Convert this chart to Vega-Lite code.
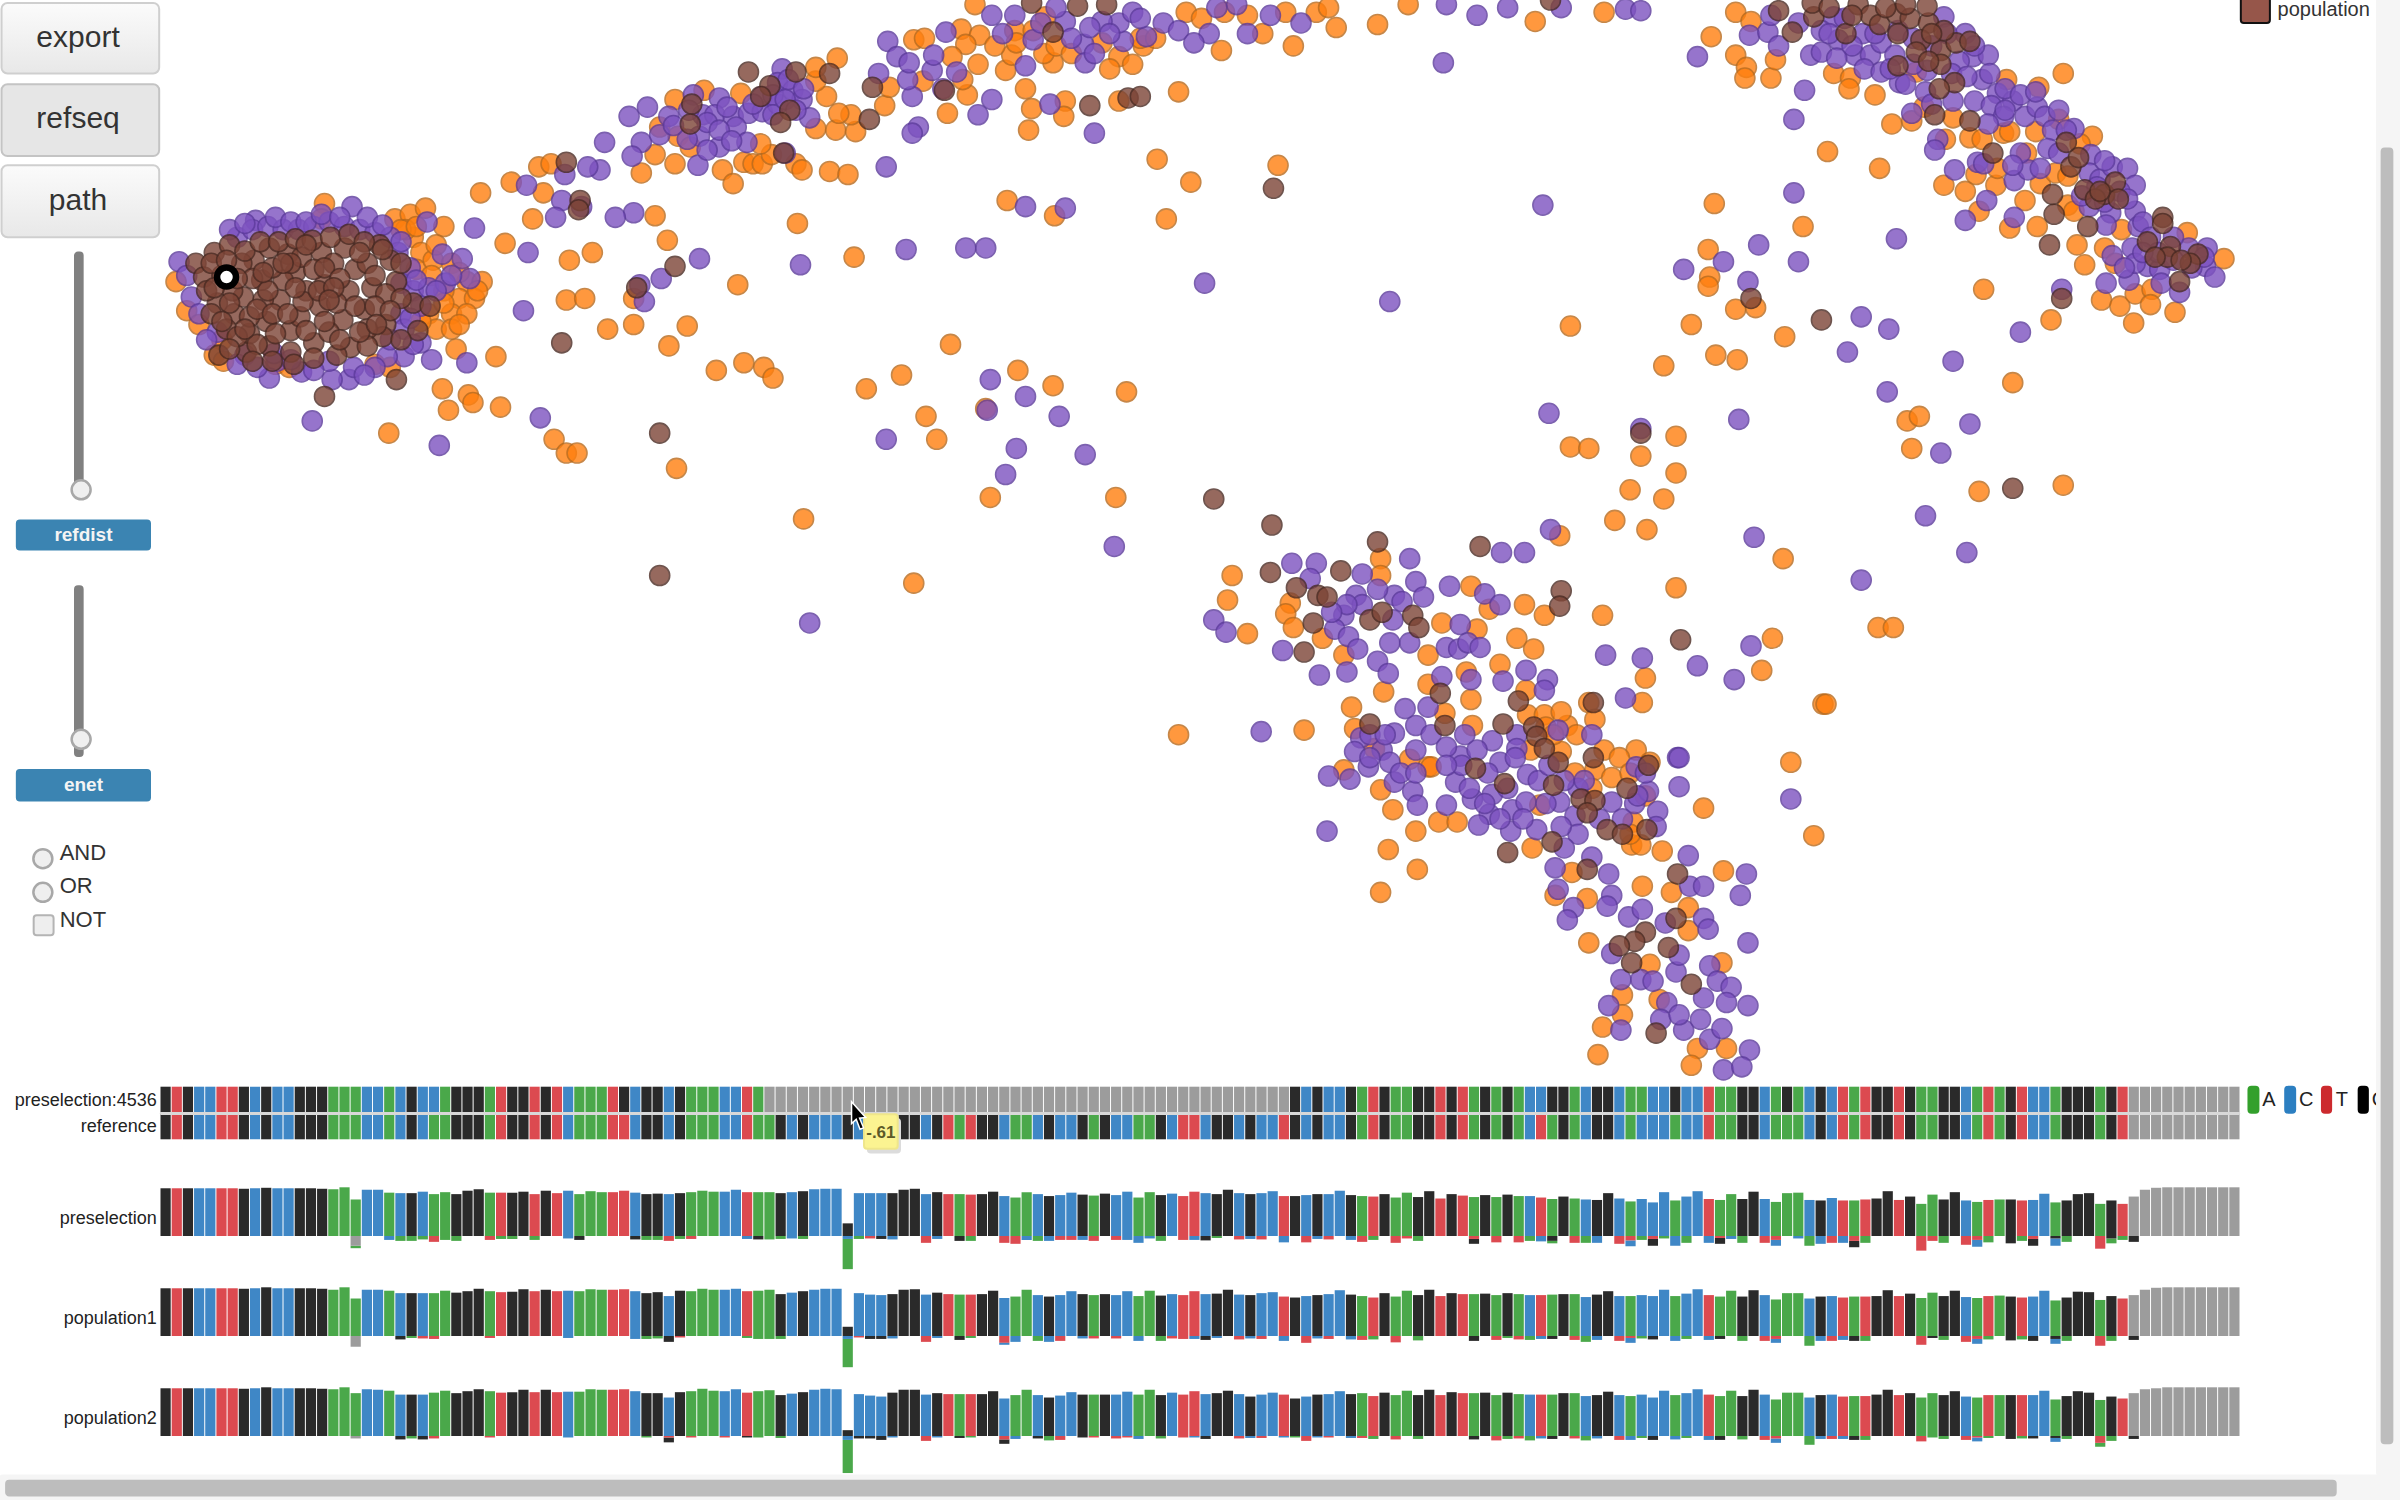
{"$schema":"https://vega.github.io/schema/vega-lite/v6.json","description":"Haplotype scatter and base frequency tracks with their controls","width":2400,"height":1500,"padding":0,"autosize":{"type":"none"},"background":"white","config":{"view":{"stroke":null},"font":"Liberation Sans"},
"datasets":{
"points":[
{"x":115,"y":184,"g":"o"},{"x":122,"y":203,"g":"o"},{"x":130,"y":212,"g":"o"},{"x":145,"y":222,"g":"o"},{"x":140,"y":232,"g":"o"},{"x":146,"y":236,"g":"o"},{"x":180,"y":238,"g":"o"},{"x":189,"y":240,"g":"o"},{"x":212,"y":133,"g":"o"},{"x":210,"y":143,"g":"o"},{"x":258,"y":143,"g":"o"},{"x":268,"y":140,"g":"o"},{"x":278,"y":136,"g":"o"},{"x":290,"y":148,"g":"o"},{"x":270,"y":155,"g":"o"},{"x":275,"y":165,"g":"o"},{"x":272,"y":176,"g":"o"},{"x":283,"y":170,"g":"o"},{"x":295,"y":172,"g":"o"},{"x":305,"y":184,"g":"o"},{"x":315,"y":184,"g":"o"},{"x":300,"y":195,"g":"o"},{"x":310,"y":195,"g":"o"},{"x":290,"y":190,"g":"o"},{"x":280,"y":205,"g":"o"},{"x":295,"y":205,"g":"o"},{"x":305,"y":205,"g":"o"},{"x":285,"y":215,"g":"o"},{"x":295,"y":215,"g":"o"},{"x":265,"y":150,"g":"o"},{"x":245,"y":238,"g":"o"},{"x":298,"y":228,"g":"o"},{"x":324,"y":233,"g":"o"},{"x":289,"y":254,"g":"o"},{"x":306,"y":258,"g":"o"},{"x":309,"y":263,"g":"o"},{"x":293,"y":268,"g":"o"},{"x":327,"y":266,"g":"o"},{"x":254,"y":283,"g":"o"},{"x":314,"y":126,"g":"o"},{"x":330,"y":159,"g":"o"},{"x":362,"y":287,"g":"o"},{"x":370,"y":296,"g":"o"},{"x":377,"y":296,"g":"o"},{"x":442,"y":306,"g":"o"},{"x":262,"y":150,"g":"o"},{"x":272,"y":148,"g":"o"},{"x":285,"y":160,"g":"o"},{"x":282,"y":180,"g":"o"},{"x":300,"y":178,"g":"o"},{"x":312,"y":190,"g":"o"},{"x":290,"y":198,"g":"o"},{"x":300,"y":212,"g":"o"},{"x":275,"y":210,"g":"o"},{"x":255,"y":240,"g":"o"},{"x":334,"y":119,"g":"o"},{"x":355,"y":126,"g":"o"},{"x":352,"y":109,"g":"o"},{"x":360,"y":107,"g":"o"},{"x":348,"y":143,"g":"o"},{"x":428,"y":141,"g":"o"},{"x":419,"y":113,"g":"o"},{"x":428,"y":101,"g":"o"},{"x":441,"y":107,"g":"o"},{"x":441,"y":65,"g":"o"},{"x":431,"y":83,"g":"o"},{"x":443,"y":89,"g":"o"},{"x":451,"y":96,"g":"o"},{"x":460,"y":59,"g":"o"},{"x":484,"y":61,"g":"o"},{"x":472,"y":111,"g":"o"},{"x":479,"y":120,"g":"o"},{"x":486,"y":106,"g":"o"},{"x":492,"y":107,"g":"o"},{"x":498,"y":107,"g":"o"},{"x":504,"y":101,"g":"o"},{"x":497,"y":94,"g":"o"},{"x":520,"y":107,"g":"o"},{"x":524,"y":111,"g":"o"},{"x":542,"y":112,"g":"o"},{"x":554,"y":114,"g":"o"},{"x":533,"y":84,"g":"o"},{"x":546,"y":85,"g":"o"},{"x":559,"y":86,"g":"o"},{"x":556,"y":75,"g":"o"},{"x":548,"y":74,"g":"o"},{"x":540,"y":63,"g":"o"},{"x":533,"y":53,"g":"o"},{"x":533,"y":44,"g":"o"},{"x":547,"y":38,"g":"o"},{"x":578,"y":69,"g":"o"},{"x":581,"y":57,"g":"o"},{"x":619,"y":74,"g":"o"},{"x":632,"y":62,"g":"o"},{"x":639,"y":42,"g":"o"},{"x":629,"y":52,"g":"o"},{"x":603,"y":53,"g":"o"},{"x":597,"y":26,"g":"o"},{"x":604,"y":25,"g":"o"},{"x":628,"y":19,"g":"o"},{"x":640,"y":23,"g":"o"},{"x":631,"y":29,"g":"o"},{"x":622,"y":37,"g":"o"},{"x":657,"y":46,"g":"o"},{"x":661,"y":36,"g":"o"},{"x":670,"y":58,"g":"o"},{"x":674,"y":71,"g":"o"},{"x":672,"y":85,"g":"o"},{"x":696,"y":66,"g":"o"},{"x":695,"y":76,"g":"o"},{"x":731,"y":66,"g":"o"},{"x":658,"y":131,"g":"o"},{"x":689,"y":141,"g":"o"},{"x":521,"y":146,"g":"o"},{"x":663,"y":20,"g":"o"},{"x":637,"y":3,"g":"o"},{"x":683,"y":11,"g":"o"},{"x":688,"y":41,"g":"o"},{"x":682,"y":35,"g":"o"},{"x":664,"y":28,"g":"o"},{"x":731,"y":37,"g":"o"},{"x":747,"y":30,"g":"o"},{"x":720,"y":28,"g":"o"},{"x":745,"y":25,"g":"o"},{"x":775,"y":8,"g":"o"},{"x":798,"y":33,"g":"o"},{"x":815,"y":10,"g":"o"},{"x":845,"y":30,"g":"o"},{"x":860,"y":8,"g":"o"},{"x":873,"y":18,"g":"o"},{"x":900,"y":16,"g":"o"},{"x":920,"y":3,"g":"o"},{"x":1003,"y":14,"g":"o"},{"x":1048,"y":8,"g":"o"},{"x":770,"y":60,"g":"o"},{"x":756,"y":104,"g":"o"},{"x":835,"y":108,"g":"o"},{"x":778,"y":119,"g":"o"},{"x":762,"y":143,"g":"o"},{"x":690,"y":30,"g":"o"},{"x":700,"y":35,"g":"o"},{"x":675,"y":20,"g":"o"},{"x":740,"y":42,"g":"o"},{"x":650,"y":30,"g":"o"},{"x":725,"y":45,"g":"o"},{"x":755,"y":25,"g":"o"},{"x":785,"y":12,"g":"o"},{"x":825,"y":22,"g":"o"},{"x":840,"y":8,"g":"o"},{"x":868,"y":5,"g":"o"},{"x":800,"y":8,"g":"o"},
{"x":1134,"y":8,"g":"o"},{"x":1144,"y":14,"g":"o"},{"x":1118,"y":24,"g":"o"},{"x":1134,"y":36,"g":"o"},{"x":1141,"y":44,"g":"o"},{"x":1140,"y":51,"g":"o"},{"x":1157,"y":51,"g":"o"},{"x":1160,"y":39,"g":"o"},{"x":1198,"y":48,"g":"o"},{"x":1209,"y":51,"g":"o"},{"x":1208,"y":58,"g":"o"},{"x":1225,"y":62,"g":"o"},{"x":1236,"y":81,"g":"o"},{"x":1249,"y":79,"g":"o"},{"x":1257,"y":70,"g":"o"},{"x":1276,"y":77,"g":"o"},{"x":1311,"y":52,"g":"o"},{"x":1332,"y":57,"g":"o"},{"x":1348,"y":48,"g":"o"},{"x":1287,"y":90,"g":"o"},{"x":1295,"y":91,"g":"o"},{"x":1309,"y":87,"g":"o"},{"x":1313,"y":86,"g":"o"},{"x":1330,"y":86,"g":"o"},{"x":1324,"y":100,"g":"o"},{"x":1270,"y":121,"g":"o"},{"x":1284,"y":125,"g":"o"},{"x":1291,"y":114,"g":"o"},{"x":1304,"y":121,"g":"o"},{"x":1293,"y":138,"g":"o"},{"x":1333,"y":120,"g":"o"},{"x":1343,"y":113,"g":"o"},{"x":1351,"y":115,"g":"o"},{"x":1323,"y":131,"g":"o"},{"x":1351,"y":134,"g":"o"},{"x":1355,"y":138,"g":"o"},{"x":1331,"y":148,"g":"o"},{"x":1313,"y":149,"g":"o"},{"x":1357,"y":160,"g":"o"},{"x":1362,"y":173,"g":"o"},{"x":1367,"y":89,"g":"o"},{"x":1386,"y":150,"g":"o"},{"x":1375,"y":162,"g":"o"},{"x":1382,"y":172,"g":"o"},{"x":1373,"y":196,"g":"o"},{"x":1385,"y":200,"g":"o"},{"x":1394,"y":211,"g":"o"},{"x":1395,"y":192,"g":"o"},{"x":1406,"y":189,"g":"o"},{"x":1405,"y":199,"g":"o"},{"x":1421,"y":204,"g":"o"},{"x":1453,"y":169,"g":"o"},{"x":1429,"y":152,"g":"o"},{"x":1340,"y":209,"g":"o"},{"x":1296,"y":189,"g":"o"},{"x":1194,"y":99,"g":"o"},{"x":1228,"y":110,"g":"o"},{"x":1120,"y":133,"g":"o"},{"x":1178,"y":148,"g":"o"},{"x":1116,"y":163,"g":"o"},{"x":1117,"y":181,"g":"o"},{"x":1116,"y":187,"g":"o"},{"x":1134,"y":202,"g":"o"},{"x":1147,"y":201,"g":"o"},{"x":1105,"y":212,"g":"o"},{"x":1166,"y":220,"g":"o"},{"x":1252,"y":47,"g":"o"},{"x":1271,"y":91,"g":"o"},{"x":1305,"y":110,"g":"o"},{"x":1359,"y":94,"g":"o"},{"x":1345,"y":78,"g":"o"},
{"x":1026,"y":213,"g":"o"},{"x":1087,"y":239,"g":"o"},{"x":1121,"y":232,"g":"o"},{"x":1135,"y":235,"g":"o"},{"x":1246,"y":275,"g":"o"},{"x":1254,"y":272,"g":"o"},{"x":1249,"y":293,"g":"o"},{"x":1315,"y":250,"g":"o"},{"x":1348,"y":317,"g":"o"},{"x":1293,"y":321,"g":"o"},{"x":1026,"y":292,"g":"o"},{"x":1038,"y":293,"g":"o"},{"x":1072,"y":298,"g":"o"},{"x":1095,"y":285,"g":"o"},{"x":1095,"y":309,"g":"o"},{"x":1065,"y":320,"g":"o"},{"x":1087,"y":326,"g":"o"},{"x":1055,"y":340,"g":"o"},{"x":1076,"y":346,"g":"o"},{"x":1165,"y":365,"g":"o"},{"x":1095,"y":384,"g":"o"},{"x":1227,"y":410,"g":"o"},{"x":1237,"y":410,"g":"o"},{"x":1191,"y":460,"g":"o"},{"x":1193,"y":460,"g":"o"},{"x":1170,"y":498,"g":"o"},{"x":1185,"y":546,"g":"o"},{"x":1158,"y":417,"g":"o"},{"x":1151,"y":438,"g":"o"},
{"x":482,"y":186,"g":"o"},{"x":558,"y":168,"g":"o"},{"x":621,"y":225,"g":"o"},{"x":566,"y":254,"g":"o"},{"x":589,"y":245,"g":"o"},{"x":605,"y":272,"g":"o"},{"x":612,"y":287,"g":"o"},{"x":644,"y":267,"g":"o"},{"x":665,"y":242,"g":"o"},{"x":688,"y":252,"g":"o"},{"x":736,"y":256,"g":"o"},{"x":729,"y":325,"g":"o"},{"x":647,"y":325,"g":"o"},{"x":525,"y":339,"g":"o"},{"x":597,"y":381,"g":"o"},{"x":770,"y":480,"g":"o"},{"x":468,"y":242,"g":"o"},{"x":486,"y":237,"g":"o"},{"x":499,"y":240,"g":"o"},{"x":505,"y":247,"g":"o"},{"x":436,"y":157,"g":"o"},{"x":387,"y":165,"g":"o"},{"x":370,"y":196,"g":"o"},{"x":372,"y":170,"g":"o"},{"x":382,"y":195,"g":"o"},{"x":397,"y":215,"g":"o"},{"x":414,"y":212,"g":"o"},{"x":414,"y":195,"g":"o"},{"x":449,"y":213,"g":"o"},{"x":437,"y":226,"g":"o"},
{"x":805,"y":376,"g":"o"},{"x":802,"y":392,"g":"o"},{"x":815,"y":414,"g":"o"},{"x":843,"y":394,"g":"o"},{"x":840,"y":401,"g":"o"},{"x":845,"y":410,"g":"o"},{"x":864,"y":417,"g":"o"},{"x":902,"y":365,"g":"o"},{"x":902,"y":376,"g":"o"},{"x":878,"y":428,"g":"o"},{"x":961,"y":383,"g":"o"},{"x":996,"y":395,"g":"o"},{"x":1009,"y":402,"g":"o"},{"x":973,"y":398,"g":"o"},{"x":991,"y":417,"g":"o"},{"x":1002,"y":424,"g":"o"},{"x":1047,"y":402,"g":"o"},{"x":1019,"y":350,"g":"o"},{"x":1075,"y":443,"g":"o"},{"x":1073,"y":459,"g":"o"},{"x":965,"y":411,"g":"o"},{"x":942,"y":407,"g":"o"},{"x":933,"y":428,"g":"o"},{"x":980,"y":434,"g":"o"},{"x":958,"y":439,"g":"o"},{"x":933,"y":447,"g":"o"},{"x":961,"y":457,"g":"o"},{"x":904,"y":452,"g":"o"},{"x":883,"y":462,"g":"o"},{"x":885,"y":476,"g":"o"},{"x":852,"y":477,"g":"o"},{"x":997,"y":451,"g":"o"},{"x":998,"y":467,"g":"o"},{"x":1009,"y":467,"g":"o"},{"x":1024,"y":474,"g":"o"},{"x":1038,"y":459,"g":"o"},{"x":1042,"y":470,"g":"o"},{"x":962,"y":474,"g":"o"},{"x":944,"y":466,"g":"o"},{"x":933,"y":501,"g":"o"},{"x":935,"y":501,"g":"o"},{"x":921,"y":496,"g":"o"},{"x":898,"y":489,"g":"o"},{"x":878,"y":503,"g":"o"},{"x":902,"y":516,"g":"o"},{"x":910,"y":529,"g":"o"},{"x":940,"y":537,"g":"o"},{"x":952,"y":537,"g":"o"},{"x":925,"y":543,"g":"o"},{"x":907,"y":555,"g":"o"},{"x":926,"y":568,"g":"o"},{"x":902,"y":583,"g":"o"},{"x":1006,"y":526,"g":"o"},{"x":1020,"y":491,"g":"o"},{"x":1029,"y":505,"g":"o"},{"x":1042,"y":503,"g":"o"},{"x":1053,"y":508,"g":"o"},{"x":1069,"y":490,"g":"o"},{"x":1078,"y":498,"g":"o"},{"x":1067,"y":537,"g":"o"},{"x":1066,"y":552,"g":"o"},{"x":1072,"y":552,"g":"o"},{"x":1086,"y":556,"g":"o"},{"x":1113,"y":528,"g":"o"},{"x":1001,"y":554,"g":"o"},{"x":1027,"y":570,"g":"o"},{"x":1073,"y":579,"g":"o"},{"x":1092,"y":583,"g":"o"},{"x":1103,"y":593,"g":"o"},{"x":1103,"y":608,"g":"o"},{"x":1037,"y":587,"g":"o"},{"x":1016,"y":585,"g":"o"},{"x":1038,"y":616,"g":"o"},{"x":1078,"y":630,"g":"o"},{"x":1125,"y":629,"g":"o"},{"x":1126,"y":569,"g":"o"},{"x":1060,"y":650,"g":"o"},{"x":1084,"y":653,"g":"o"},{"x":1047,"y":671,"g":"o"},{"x":1060,"y":663,"g":"o"},{"x":1044,"y":689,"g":"o"},{"x":1109,"y":685,"g":"o"},{"x":1128,"y":685,"g":"o"},{"x":1105,"y":696,"g":"o"},{"x":1010,"y":475,"g":"o"},{"x":1020,"y":465,"g":"o"},{"x":1030,"y":480,"g":"o"},{"x":1048,"y":490,"g":"o"},{"x":1058,"y":495,"g":"o"},{"x":1065,"y":505,"g":"o"},{"x":1075,"y":520,"g":"o"},{"x":1040,"y":515,"g":"o"},{"x":1015,"y":480,"g":"o"},{"x":1000,"y":490,"g":"o"},{"x":1065,"y":545,"g":"o"},
{"x":117,"y":171,"g":"p"},{"x":125,"y":194,"g":"p"},{"x":142,"y":217,"g":"p"},{"x":167,"y":144,"g":"p"},{"x":155,"y":155,"g":"p"},{"x":165,"y":150,"g":"p"},{"x":175,"y":148,"g":"p"},{"x":185,"y":150,"g":"p"},{"x":195,"y":150,"g":"p"},{"x":205,"y":148,"g":"p"},{"x":215,"y":145,"g":"p"},{"x":225,"y":148,"g":"p"},{"x":230,"y":135,"g":"p"},{"x":235,"y":150,"g":"p"},{"x":245,"y":152,"g":"p"},{"x":255,"y":155,"g":"p"},{"x":260,"y":165,"g":"p"},{"x":279,"y":145,"g":"p"},{"x":268,"y":175,"g":"p"},{"x":262,"y":185,"g":"p"},{"x":270,"y":190,"g":"p"},{"x":275,"y":200,"g":"p"},{"x":262,"y":205,"g":"p"},{"x":280,"y":188,"g":"p"},{"x":289,"y":166,"g":"p"},{"x":307,"y":182,"g":"p"},{"x":291,"y":185,"g":"p"},{"x":302,"y":169,"g":"p"},{"x":282,"y":235,"g":"p"},{"x":275,"y":224,"g":"p"},{"x":264,"y":215,"g":"p"},{"x":228,"y":248,"g":"p"},{"x":217,"y":248,"g":"p"},{"x":231,"y":240,"g":"p"},{"x":264,"y":233,"g":"p"},{"x":253,"y":233,"g":"p"},{"x":215,"y":236,"g":"p"},{"x":181,"y":236,"g":"p"},{"x":179,"y":231,"g":"p"},{"x":176,"y":247,"g":"p"},{"x":197,"y":243,"g":"p"},{"x":160,"y":232,"g":"p"},{"x":310,"y":149,"g":"p"},{"x":305,"y":237,"g":"p"},{"x":204,"y":275,"g":"p"},{"x":287,"y":291,"g":"p"},{"x":150,"y":150,"g":"p"},{"x":160,"y":146,"g":"p"},{"x":180,"y":142,"g":"p"},{"x":190,"y":145,"g":"p"},{"x":200,"y":145,"g":"p"},{"x":210,"y":140,"g":"p"},{"x":222,"y":142,"g":"p"},{"x":240,"y":142,"g":"p"},{"x":250,"y":147,"g":"p"},{"x":262,"y":158,"g":"p"},{"x":272,"y":183,"g":"p"},{"x":268,"y":208,"g":"p"},{"x":255,"y":222,"g":"p"},{"x":245,"y":240,"g":"p"},{"x":238,"y":245,"g":"p"},{"x":205,"y":242,"g":"p"},{"x":190,"y":235,"g":"p"},{"x":168,"y":240,"g":"p"},{"x":155,"y":238,"g":"p"},{"x":135,"y":222,"g":"p"},{"x":130,"y":205,"g":"p"},{"x":122,"y":180,"g":"p"},{"x":285,"y":190,"g":"p"},{"x":295,"y":180,"g":"p"},{"x":270,"y":225,"g":"p"},
{"x":423,"y":70,"g":"p"},{"x":411,"y":76,"g":"p"},{"x":395,"y":93,"g":"p"},{"x":419,"y":93,"g":"p"},{"x":413,"y":102,"g":"p"},{"x":431,"y":88,"g":"p"},{"x":437,"y":76,"g":"p"},{"x":453,"y":62,"g":"p"},{"x":470,"y":64,"g":"p"},{"x":459,"y":75,"g":"p"},{"x":467,"y":75,"g":"p"},{"x":479,"y":76,"g":"p"},{"x":489,"y":74,"g":"p"},{"x":481,"y":83,"g":"p"},{"x":457,"y":89,"g":"p"},{"x":470,"y":96,"g":"p"},{"x":488,"y":93,"g":"p"},{"x":456,"y":108,"g":"p"},{"x":498,"y":73,"g":"p"},{"x":498,"y":63,"g":"p"},{"x":511,"y":45,"g":"p"},{"x":508,"y":54,"g":"p"},{"x":518,"y":59,"g":"p"},{"x":524,"y":65,"g":"p"},{"x":508,"y":68,"g":"p"},{"x":529,"y":77,"g":"p"},{"x":513,"y":100,"g":"p"},{"x":449,"y":91,"g":"p"},{"x":392,"y":111,"g":"p"},{"x":384,"y":109,"g":"p"},{"x":369,"y":114,"g":"p"},{"x":344,"y":121,"g":"p"},{"x":367,"y":131,"g":"p"},{"x":579,"y":109,"g":"p"},{"x":600,"y":83,"g":"p"},{"x":596,"y":87,"g":"p"},{"x":596,"y":63,"g":"p"},{"x":593,"y":52,"g":"p"},{"x":574,"y":48,"g":"p"},{"x":580,"y":27,"g":"p"},{"x":586,"y":37,"g":"p"},{"x":594,"y":41,"g":"p"},{"x":609,"y":46,"g":"p"},{"x":610,"y":36,"g":"p"},{"x":625,"y":47,"g":"p"},{"x":616,"y":58,"g":"p"},{"x":618,"y":21,"g":"p"},{"x":648,"y":65,"g":"p"},{"x":639,"y":75,"g":"p"},{"x":648,"y":10,"g":"p"},{"x":663,"y":10,"g":"p"},{"x":670,"y":43,"g":"p"},{"x":675,"y":26,"g":"p"},{"x":686,"y":68,"g":"p"},{"x":715,"y":87,"g":"p"},{"x":670,"y":135,"g":"p"},{"x":696,"y":136,"g":"p"},{"x":708,"y":29,"g":"p"},{"x":696,"y":14,"g":"p"},{"x":709,"y":41,"g":"p"},{"x":734,"y":27,"g":"p"},{"x":731,"y":15,"g":"p"},{"x":720,"y":14,"g":"p"},{"x":749,"y":24,"g":"p"},{"x":414,"y":139,"g":"p"},{"x":402,"y":142,"g":"p"},{"x":760,"y":15,"g":"p"},{"x":790,"y":22,"g":"p"},{"x":830,"y":10,"g":"p"},{"x":808,"y":3,"g":"p"},{"x":945,"y":3,"g":"p"},{"x":965,"y":10,"g":"p"},{"x":985,"y":5,"g":"p"},{"x":1020,"y":5,"g":"p"},{"x":1062,"y":6,"g":"p"},{"x":1072,"y":7,"g":"p"},{"x":943,"y":41,"g":"p"},{"x":450,"y":72,"g":"p"},{"x":462,"y":80,"g":"p"},{"x":475,"y":70,"g":"p"},{"x":492,"y":68,"g":"p"},{"x":505,"y":62,"g":"p"},{"x":515,"y":52,"g":"p"},{"x":525,"y":58,"g":"p"},{"x":470,"y":85,"g":"p"},{"x":478,"y":92,"g":"p"},{"x":462,"y":98,"g":"p"},{"x":440,"y":82,"g":"p"},{"x":505,"y":75,"g":"p"},{"x":513,"y":65,"g":"p"},{"x":520,"y":72,"g":"p"},{"x":680,"y":15,"g":"p"},{"x":690,"y":5,"g":"p"},{"x":712,"y":18,"g":"p"},{"x":725,"y":22,"g":"p"},{"x":740,"y":8,"g":"p"},{"x":700,"y":25,"g":"p"},{"x":715,"y":35,"g":"p"},{"x":655,"y":22,"g":"p"},{"x":770,"y":20,"g":"p"},{"x":780,"y":28,"g":"p"},{"x":815,"y":22,"g":"p"},{"x":850,"y":15,"g":"p"},{"x":795,"y":5,"g":"p"},{"x":745,"y":12,"g":"p"},
{"x":1109,"y":37,"g":"p"},{"x":1143,"y":23,"g":"p"},{"x":1155,"y":21,"g":"p"},{"x":1162,"y":30,"g":"p"},{"x":1157,"y":10,"g":"p"},{"x":1179,"y":59,"g":"p"},{"x":1172,"y":78,"g":"p"},{"x":1183,"y":36,"g":"p"},{"x":1190,"y":34,"g":"p"},{"x":1201,"y":26,"g":"p"},{"x":1212,"y":36,"g":"p"},{"x":1222,"y":36,"g":"p"},{"x":1229,"y":28,"g":"p"},{"x":1238,"y":36,"g":"p"},{"x":1218,"y":45,"g":"p"},{"x":1229,"y":47,"g":"p"},{"x":1241,"y":54,"g":"p"},{"x":1198,"y":11,"g":"p"},{"x":1217,"y":22,"g":"p"},{"x":1259,"y":46,"g":"p"},{"x":1270,"y":11,"g":"p"},{"x":1284,"y":22,"g":"p"},{"x":1289,"y":37,"g":"p"},{"x":1299,"y":36,"g":"p"},{"x":1295,"y":52,"g":"p"},{"x":1305,"y":61,"g":"p"},{"x":1276,"y":66,"g":"p"},{"x":1290,"y":66,"g":"p"},{"x":1301,"y":69,"g":"p"},{"x":1315,"y":66,"g":"p"},{"x":1309,"y":76,"g":"p"},{"x":1299,"y":81,"g":"p"},{"x":1323,"y":76,"g":"p"},{"x":1331,"y":70,"g":"p"},{"x":1336,"y":76,"g":"p"},{"x":1341,"y":85,"g":"p"},{"x":1355,"y":84,"g":"p"},{"x":1338,"y":97,"g":"p"},{"x":1366,"y":101,"g":"p"},{"x":1266,"y":91,"g":"p"},{"x":1264,"y":98,"g":"p"},{"x":1277,"y":111,"g":"p"},{"x":1292,"y":106,"g":"p"},{"x":1296,"y":107,"g":"p"},{"x":1316,"y":118,"g":"p"},{"x":1325,"y":111,"g":"p"},{"x":1333,"y":110,"g":"p"},{"x":1298,"y":131,"g":"p"},{"x":1284,"y":144,"g":"p"},{"x":1316,"y":142,"g":"p"},{"x":1365,"y":113,"g":"p"},{"x":1372,"y":117,"g":"p"},{"x":1380,"y":109,"g":"p"},{"x":1390,"y":110,"g":"p"},{"x":1395,"y":121,"g":"p"},{"x":1365,"y":135,"g":"p"},{"x":1395,"y":138,"g":"p"},{"x":1379,"y":139,"g":"p"},{"x":1376,"y":147,"g":"p"},{"x":1397,"y":148,"g":"p"},{"x":1380,"y":167,"g":"p"},{"x":1393,"y":162,"g":"p"},{"x":1403,"y":174,"g":"p"},{"x":1411,"y":176,"g":"p"},{"x":1430,"y":162,"g":"p"},{"x":1442,"y":162,"g":"p"},{"x":1441,"y":174,"g":"p"},{"x":1447,"y":181,"g":"p"},{"x":1424,"y":191,"g":"p"},{"x":1376,"y":185,"g":"p"},{"x":1391,"y":183,"g":"p"},{"x":1172,"y":126,"g":"p"},{"x":1239,"y":156,"g":"p"},{"x":1149,"y":160,"g":"p"},{"x":1126,"y":171,"g":"p"},{"x":1175,"y":171,"g":"p"},{"x":1100,"y":176,"g":"p"},{"x":1142,"y":184,"g":"p"},{"x":1216,"y":207,"g":"p"},{"x":1234,"y":215,"g":"p"},{"x":1320,"y":217,"g":"p"},{"x":1347,"y":189,"g":"p"},{"x":1249,"y":74,"g":"p"},{"x":1008,"y":134,"g":"p"},{"x":908,"y":197,"g":"p"},{"x":1012,"y":270,"g":"p"},{"x":1072,"y":280,"g":"p"},{"x":1136,"y":274,"g":"p"},{"x":1207,"y":230,"g":"p"},{"x":1233,"y":256,"g":"p"},{"x":1276,"y":236,"g":"p"},{"x":1287,"y":277,"g":"p"},{"x":1268,"y":296,"g":"p"},{"x":1258,"y":337,"g":"p"},{"x":1285,"y":361,"g":"p"},{"x":1146,"y":351,"g":"p"},{"x":1216,"y":379,"g":"p"},{"x":1170,"y":522,"g":"p"},{"x":1144,"y":422,"g":"p"},{"x":1133,"y":444,"g":"p"},{"x":1109,"y":435,"g":"p"},{"x":1049,"y":428,"g":"p"},{"x":1096,"y":495,"g":"p"},{"x":1175,"y":15,"g":"p"},{"x":1190,"y":20,"g":"p"},{"x":1205,"y":12,"g":"p"},{"x":1210,"y":30,"g":"p"},{"x":1225,"y":22,"g":"p"},{"x":1240,"y":20,"g":"p"},{"x":1250,"y":25,"g":"p"},{"x":1235,"y":45,"g":"p"},{"x":1250,"y":42,"g":"p"},{"x":1262,"y":30,"g":"p"},{"x":1272,"y":22,"g":"p"},{"x":1280,"y":40,"g":"p"},{"x":1275,"y":48,"g":"p"},{"x":1285,"y":50,"g":"p"},{"x":1290,"y":30,"g":"p"},{"x":1300,"y":48,"g":"p"},{"x":1310,"y":58,"g":"p"},{"x":1320,"y":62,"g":"p"},{"x":1200,"y":38,"g":"p"},{"x":1195,"y":22,"g":"p"},{"x":1245,"y":55,"g":"p"},{"x":1258,"y":60,"g":"p"},{"x":1262,"y":68,"g":"p"},{"x":1310,"y":72,"g":"p"},{"x":1330,"y":60,"g":"p"},{"x":1345,"y":72,"g":"p"},{"x":1350,"y":85,"g":"p"},{"x":1375,"y":105,"g":"p"},{"x":1385,"y":125,"g":"p"},{"x":1375,"y":132,"g":"p"},{"x":1390,"y":130,"g":"p"},{"x":1400,"y":145,"g":"p"},{"x":1405,"y":155,"g":"p"},{"x":1395,"y":172,"g":"p"},{"x":1410,"y":165,"g":"p"},{"x":1420,"y":170,"g":"p"},{"x":1432,"y":175,"g":"p"},{"x":1420,"y":155,"g":"p"},{"x":1412,"y":185,"g":"p"},{"x":1400,"y":165,"g":"p"},{"x":1388,"y":175,"g":"p"},{"x":1440,"y":168,"g":"p"},{"x":1370,"y":122,"g":"p"},{"x":1360,"y":128,"g":"p"},{"x":1345,"y":100,"g":"p"},{"x":1320,"y":100,"g":"p"},{"x":1315,"y":108,"g":"p"},
{"x":523,"y":173,"g":"p"},{"x":592,"y":163,"g":"p"},{"x":631,"y":162,"g":"p"},{"x":644,"y":162,"g":"p"},{"x":647,"y":248,"g":"p"},{"x":670,"y":259,"g":"p"},{"x":645,"y":268,"g":"p"},{"x":692,"y":272,"g":"p"},{"x":709,"y":297,"g":"p"},{"x":664,"y":293,"g":"p"},{"x":657,"y":310,"g":"p"},{"x":579,"y":287,"g":"p"},{"x":728,"y":357,"g":"p"},{"x":529,"y":407,"g":"p"},{"x":342,"y":203,"g":"p"},{"x":353,"y":273,"g":"p"},{"x":787,"y":185,"g":"p"},{"x":824,"y":478,"g":"p"},{"x":457,"y":169,"g":"p"},{"x":418,"y":186,"g":"p"},{"x":432,"y":182,"g":"p"},{"x":421,"y":197,"g":"p"},{"x":363,"y":142,"g":"p"},{"x":380,"y":135,"g":"p"},{"x":345,"y":165,"g":"p"},
{"x":793,"y":405,"g":"p"},{"x":801,"y":413,"g":"p"},{"x":844,"y":368,"g":"p"},{"x":860,"y":368,"g":"p"},{"x":856,"y":378,"g":"p"},{"x":890,"y":375,"g":"p"},{"x":886,"y":389,"g":"p"},{"x":921,"y":365,"g":"p"},{"x":947,"y":383,"g":"p"},{"x":981,"y":361,"g":"p"},{"x":996,"y":361,"g":"p"},{"x":1013,"y":346,"g":"p"},{"x":970,"y":388,"g":"p"},{"x":980,"y":395,"g":"p"},{"x":911,"y":389,"g":"p"},{"x":916,"y":393,"g":"p"},{"x":878,"y":402,"g":"p"},{"x":872,"y":411,"g":"p"},{"x":881,"y":416,"g":"p"},{"x":887,"y":424,"g":"p"},{"x":838,"y":425,"g":"p"},{"x":862,"y":441,"g":"p"},{"x":880,"y":439,"g":"p"},{"x":900,"y":432,"g":"p"},{"x":907,"y":440,"g":"p"},{"x":908,"y":420,"g":"p"},{"x":921,"y":420,"g":"p"},{"x":954,"y":408,"g":"p"},{"x":945,"y":423,"g":"p"},{"x":953,"y":424,"g":"p"},{"x":959,"y":420,"g":"p"},{"x":967,"y":423,"g":"p"},{"x":942,"y":442,"g":"p"},{"x":961,"y":444,"g":"p"},{"x":982,"y":445,"g":"p"},{"x":997,"y":438,"g":"p"},{"x":1011,"y":444,"g":"p"},{"x":1009,"y":451,"g":"p"},{"x":1073,"y":430,"g":"p"},{"x":1062,"y":456,"g":"p"},{"x":918,"y":463,"g":"p"},{"x":933,"y":462,"g":"p"},{"x":925,"y":474,"g":"p"},{"x":911,"y":479,"g":"p"},{"x":889,"y":482,"g":"p"},{"x":885,"y":491,"g":"p"},{"x":903,"y":490,"g":"p"},{"x":925,"y":490,"g":"p"},{"x":894,"y":501,"g":"p"},{"x":868,"y":507,"g":"p"},{"x":882,"y":509,"g":"p"},{"x":908,"y":498,"g":"p"},{"x":911,"y":511,"g":"p"},{"x":923,"y":517,"g":"p"},{"x":926,"y":526,"g":"p"},{"x":945,"y":526,"g":"p"},{"x":954,"y":494,"g":"p"},{"x":951,"y":511,"g":"p"},{"x":962,"y":522,"g":"p"},{"x":975,"y":484,"g":"p"},{"x":957,"y":480,"g":"p"},{"x":991,"y":480,"g":"p"},{"x":1018,"y":477,"g":"p"},{"x":1040,"y":480,"g":"p"},{"x":980,"y":498,"g":"p"},{"x":998,"y":506,"g":"p"},{"x":975,"y":519,"g":"p"},{"x":988,"y":529,"g":"p"},{"x":997,"y":524,"g":"p"},{"x":973,"y":532,"g":"p"},{"x":966,"y":539,"g":"p"},{"x":991,"y":489,"g":"p"},{"x":1031,"y":515,"g":"p"},{"x":1019,"y":524,"g":"p"},{"x":1029,"y":533,"g":"p"},{"x":1031,"y":545,"g":"p"},{"x":1053,"y":524,"g":"p"},{"x":1068,"y":525,"g":"p"},{"x":1077,"y":517,"g":"p"},{"x":1083,"y":530,"g":"p"},{"x":1082,"y":540,"g":"p"},{"x":1097,"y":495,"g":"p"},{"x":1097,"y":514,"g":"p"},{"x":1069,"y":501,"g":"p"},{"x":867,"y":543,"g":"p"},{"x":1004,"y":542,"g":"p"},{"x":987,"y":543,"g":"p"},{"x":1022,"y":554,"g":"p"},{"x":1016,"y":567,"g":"p"},{"x":1040,"y":560,"g":"p"},{"x":1051,"y":571,"g":"p"},{"x":1018,"y":581,"g":"p"},{"x":1053,"y":585,"g":"p"},{"x":1050,"y":592,"g":"p"},{"x":1028,"y":593,"g":"p"},{"x":1024,"y":601,"g":"p"},{"x":1064,"y":599,"g":"p"},{"x":1073,"y":594,"g":"p"},{"x":1104,"y":579,"g":"p"},{"x":1113,"y":579,"g":"p"},{"x":1103,"y":559,"g":"p"},{"x":1141,"y":571,"g":"p"},{"x":1137,"y":585,"g":"p"},{"x":1113,"y":600,"g":"p"},{"x":1116,"y":607,"g":"p"},{"x":1142,"y":616,"g":"p"},{"x":1053,"y":623,"g":"p"},{"x":1088,"y":603,"g":"p"},{"x":1059,"y":640,"g":"p"},{"x":1072,"y":640,"g":"p"},{"x":1080,"y":641,"g":"p"},{"x":1095,"y":635,"g":"p"},{"x":1097,"y":624,"g":"p"},{"x":1117,"y":631,"g":"p"},{"x":1122,"y":641,"g":"p"},{"x":1131,"y":645,"g":"p"},{"x":1128,"y":655,"g":"p"},{"x":1113,"y":652,"g":"p"},{"x":1142,"y":657,"g":"p"},{"x":1051,"y":657,"g":"p"},{"x":1089,"y":655,"g":"p"},{"x":1085,"y":666,"g":"p"},{"x":1100,"y":673,"g":"p"},{"x":1111,"y":666,"g":"p"},{"x":1097,"y":663,"g":"p"},{"x":1059,"y":673,"g":"p"},{"x":1117,"y":679,"g":"p"},{"x":1125,"y":672,"g":"p"},{"x":1143,"y":686,"g":"p"},{"x":1126,"y":699,"g":"p"},{"x":1138,"y":697,"g":"p"},{"x":955,"y":500,"g":"p"},{"x":965,"y":490,"g":"p"},{"x":972,"y":505,"g":"p"},{"x":985,"y":515,"g":"p"},{"x":990,"y":495,"g":"p"},{"x":1005,"y":510,"g":"p"},{"x":1012,"y":500,"g":"p"},{"x":1022,"y":510,"g":"p"},{"x":960,"y":515,"g":"p"},{"x":970,"y":525,"g":"p"},{"x":980,"y":535,"g":"p"},{"x":995,"y":535,"g":"p"},{"x":1010,"y":525,"g":"p"},{"x":1020,"y":540,"g":"p"},{"x":1035,"y":510,"g":"p"},{"x":1045,"y":535,"g":"p"},{"x":1060,"y":535,"g":"p"},{"x":1070,"y":520,"g":"p"},{"x":1075,"y":505,"g":"p"},{"x":895,"y":480,"g":"p"},{"x":905,"y":480,"g":"p"},{"x":895,"y":495,"g":"p"},{"x":915,"y":505,"g":"p"},{"x":925,"y":505,"g":"p"},{"x":935,"y":480,"g":"p"},{"x":945,"y":488,"g":"p"},{"x":945,"y":500,"g":"p"},{"x":900,"y":385,"g":"p"},{"x":890,"y":395,"g":"p"},{"x":880,"y":395,"g":"p"},{"x":870,"y":400,"g":"p"},{"x":925,"y":380,"g":"p"},{"x":930,"y":390,"g":"p"},{"x":910,"y":405,"g":"p"},
{"x":128,"y":172,"g":"b"},{"x":133,"y":181,"g":"b"},{"x":140,"y":165,"g":"b"},{"x":150,"y":160,"g":"b"},{"x":166,"y":170,"g":"b"},{"x":171,"y":183,"g":"b"},{"x":158,"y":172,"g":"b"},{"x":176,"y":162,"g":"b"},{"x":188,"y":166,"g":"b"},{"x":193,"y":178,"g":"b"},{"x":197,"y":168,"g":"b"},{"x":212,"y":186,"g":"b"},{"x":210,"y":165,"g":"b"},{"x":225,"y":162,"g":"b"},{"x":232,"y":176,"g":"b"},{"x":240,"y":172,"g":"b"},{"x":243,"y":188,"g":"b"},{"x":228,"y":190,"g":"b"},{"x":259,"y":184,"g":"b"},{"x":270,"y":198,"g":"b"},{"x":281,"y":200,"g":"b"},{"x":273,"y":216,"g":"b"},{"x":252,"y":212,"g":"b"},{"x":250,"y":220,"g":"b"},{"x":229,"y":227,"g":"b"},{"x":209,"y":200,"g":"b"},{"x":224,"y":209,"g":"b"},{"x":205,"y":224,"g":"b"},{"x":190,"y":216,"g":"b"},{"x":174,"y":210,"g":"b"},{"x":161,"y":230,"g":"b"},{"x":143,"y":232,"g":"b"},{"x":153,"y":205,"g":"b"},{"x":142,"y":198,"g":"b"},{"x":159,"y":194,"g":"b"},{"x":183,"y":196,"g":"b"},{"x":196,"y":207,"g":"b"},{"x":135,"y":190,"g":"b"},{"x":148,"y":215,"g":"b"},{"x":163,"y":218,"g":"b"},{"x":176,"y":226,"g":"b"},{"x":190,"y":230,"g":"b"},{"x":215,"y":217,"g":"b"},{"x":238,"y":202,"g":"b"},{"x":255,"y":170,"g":"b"},{"x":248,"y":160,"g":"b"},{"x":240,"y":215,"g":"b"},{"x":220,"y":198,"g":"b"},{"x":200,"y":190,"g":"b"},{"x":185,"y":183,"g":"b"},{"x":172,"y":196,"g":"b"},{"x":163,"y":207,"g":"b"},{"x":205,"y":176,"g":"b"},{"x":218,"y":172,"g":"b"},{"x":145,"y":180,"g":"b"},{"x":152,"y":190,"g":"b"},{"x":259,"y":248,"g":"b"},{"x":212,"y":259,"g":"b"},{"x":138,"y":172,"g":"b"},{"x":148,"y":170,"g":"b"},{"x":160,"y":164,"g":"b"},{"x":170,"y":158,"g":"b"},{"x":182,"y":158,"g":"b"},{"x":193,"y":156,"g":"b"},{"x":204,"y":157,"g":"b"},{"x":216,"y":155,"g":"b"},{"x":228,"y":153,"g":"b"},{"x":238,"y":158,"g":"b"},{"x":250,"y":163,"g":"b"},{"x":262,"y":172,"g":"b"},{"x":140,"y":188,"g":"b"},{"x":150,"y":198,"g":"b"},{"x":165,"y":182,"g":"b"},{"x":178,"y":175,"g":"b"},{"x":190,"y":172,"g":"b"},{"x":200,"y":160,"g":"b"},{"x":212,"y":175,"g":"b"},{"x":222,"y":182,"g":"b"},{"x":235,"y":165,"g":"b"},{"x":245,"y":180,"g":"b"},{"x":252,"y":192,"g":"b"},{"x":262,"y":195,"g":"b"},{"x":138,"y":205,"g":"b"},{"x":145,"y":210,"g":"b"},{"x":155,"y":220,"g":"b"},{"x":168,"y":225,"g":"b"},{"x":150,"y":228,"g":"b"},{"x":168,"y":202,"g":"b"},{"x":178,"y":205,"g":"b"},{"x":188,"y":205,"g":"b"},{"x":198,"y":197,"g":"b"},{"x":208,"y":190,"g":"b"},{"x":218,"y":188,"g":"b"},{"x":232,"y":200,"g":"b"},{"x":245,"y":200,"g":"b"},{"x":255,"y":203,"g":"b"},{"x":262,"y":222,"g":"b"},{"x":240,"y":226,"g":"b"},{"x":220,"y":232,"g":"b"},{"x":205,"y":234,"g":"b"},{"x":192,"y":238,"g":"b"},{"x":178,"y":236,"g":"b"},{"x":165,"y":236,"g":"b"},{"x":180,"y":218,"g":"b"},{"x":200,"y":216,"g":"b"},{"x":212,"y":210,"g":"b"},{"x":235,"y":217,"g":"b"},{"x":222,"y":222,"g":"b"},{"x":193,"y":188,"g":"b"},{"x":175,"y":190,"g":"b"},{"x":185,"y":172,"g":"b"},{"x":215,"y":196,"g":"b"},{"x":246,"y":212,"g":"b"},{"x":155,"y":182,"g":"b"},{"x":160,"y":215,"g":"b"},{"x":172,"y":178,"g":"b"},
{"x":370,"y":106,"g":"b"},{"x":379,"y":131,"g":"b"},{"x":378,"y":137,"g":"b"},{"x":489,"y":47,"g":"b"},{"x":520,"y":47,"g":"b"},{"x":542,"y":48,"g":"b"},{"x":503,"y":56,"g":"b"},{"x":497,"y":63,"g":"b"},{"x":452,"y":68,"g":"b"},{"x":451,"y":81,"g":"b"},{"x":516,"y":72,"g":"b"},{"x":510,"y":80,"g":"b"},{"x":512,"y":100,"g":"b"},{"x":568,"y":78,"g":"b"},{"x":570,"y":57,"g":"b"},{"x":617,"y":59,"g":"b"},{"x":688,"y":21,"g":"b"},{"x":712,"y":69,"g":"b"},{"x":737,"y":64,"g":"b"},{"x":745,"y":63,"g":"b"},{"x":674,"y":2,"g":"b"},{"x":704,"y":4,"g":"b"},{"x":723,"y":3,"g":"b"},{"x":1013,"y":0,"g":"b"},
{"x":1162,"y":7,"g":"b"},{"x":1171,"y":21,"g":"b"},{"x":1185,"y":11,"g":"b"},{"x":1184,"y":2,"g":"b"},{"x":1206,"y":22,"g":"b"},{"x":1214,"y":3,"g":"b"},{"x":1222,"y":10,"g":"b"},{"x":1228,"y":16,"g":"b"},{"x":1239,"y":9,"g":"b"},{"x":1248,"y":12,"g":"b"},{"x":1260,"y":15,"g":"b"},{"x":1259,"y":4,"g":"b"},{"x":1255,"y":26,"g":"b"},{"x":1252,"y":34,"g":"b"},{"x":1268,"y":33,"g":"b"},{"x":1278,"y":28,"g":"b"},{"x":1287,"y":27,"g":"b"},{"x":1268,"y":42,"g":"b"},{"x":1240,"y":43,"g":"b"},{"x":1277,"y":54,"g":"b"},{"x":1267,"y":58,"g":"b"},{"x":1264,"y":75,"g":"b"},{"x":1287,"y":79,"g":"b"},{"x":1302,"y":100,"g":"b"},{"x":1350,"y":93,"g":"b"},{"x":1353,"y":109,"g":"b"},{"x":1358,"y":103,"g":"b"},{"x":1362,"y":124,"g":"b"},{"x":1375,"y":127,"g":"b"},{"x":1382,"y":119,"g":"b"},{"x":1384,"y":130,"g":"b"},{"x":1369,"y":130,"g":"b"},{"x":1341,"y":127,"g":"b"},{"x":1342,"y":140,"g":"b"},{"x":1364,"y":148,"g":"b"},{"x":1413,"y":142,"g":"b"},{"x":1413,"y":146,"g":"b"},{"x":1403,"y":158,"g":"b"},{"x":1418,"y":161,"g":"b"},{"x":1416,"y":168,"g":"b"},{"x":1436,"y":166,"g":"b"},{"x":1431,"y":172,"g":"b"},{"x":1424,"y":184,"g":"b"},{"x":1339,"y":160,"g":"b"},{"x":1144,"y":195,"g":"b"},{"x":1347,"y":195,"g":"b"},{"x":1190,"y":209,"g":"b"},{"x":1195,"y":5,"g":"b"},{"x":1210,"y":10,"g":"b"},{"x":1232,"y":5,"g":"b"},{"x":1245,"y":3,"g":"b"},{"x":1270,"y":20,"g":"b"},{"x":1262,"y":22,"g":"b"},{"x":1240,"y":22,"g":"b"},{"x":1260,"y":40,"g":"b"},{"x":1372,"y":125,"g":"b"},{"x":1408,"y":168,"g":"b"},{"x":1425,"y":170,"g":"b"},
{"x":367,"y":224,"g":"b"},{"x":431,"y":283,"g":"b"},{"x":431,"y":376,"g":"b"},{"x":441,"y":174,"g":"b"},{"x":416,"y":188,"g":"b"},{"x":832,"y":123,"g":"b"},{"x":793,"y":326,"g":"b"},{"x":1072,"y":283,"g":"b"},{"x":1315,"y":319,"g":"b"},{"x":831,"y":343,"g":"b"},{"x":900,"y":354,"g":"b"},{"x":967,"y":357,"g":"b"},{"x":830,"y":374,"g":"b"},{"x":876,"y":373,"g":"b"},{"x":847,"y":384,"g":"b"},{"x":861,"y":389,"g":"b"},{"x":867,"y":390,"g":"b"},{"x":1020,"y":386,"g":"b"},{"x":1019,"y":396,"g":"b"},{"x":858,"y":407,"g":"b"},{"x":852,"y":426,"g":"b"},{"x":895,"y":405,"g":"b"},{"x":903,"y":400,"g":"b"},{"x":923,"y":402,"g":"b"},{"x":927,"y":410,"g":"b"},{"x":1098,"y":418,"g":"b"},{"x":941,"y":453,"g":"b"},{"x":992,"y":458,"g":"b"},{"x":1041,"y":459,"g":"b"},{"x":895,"y":473,"g":"b"},{"x":944,"y":474,"g":"b"},{"x":982,"y":473,"g":"b"},{"x":1002,"y":475,"g":"b"},{"x":1004,"y":481,"g":"b"},{"x":1009,"y":489,"g":"b"},{"x":1018,"y":498,"g":"b"},{"x":1041,"y":495,"g":"b"},{"x":1077,"y":500,"g":"b"},{"x":964,"y":502,"g":"b"},{"x":983,"y":512,"g":"b"},{"x":1015,"y":513,"g":"b"},{"x":1033,"y":522,"g":"b"},{"x":1042,"y":523,"g":"b"},{"x":1037,"y":531,"g":"b"},{"x":1063,"y":515,"g":"b"},{"x":1050,"y":542,"g":"b"},{"x":1060,"y":545,"g":"b"},{"x":1076,"y":542,"g":"b"},{"x":1014,"y":550,"g":"b"},{"x":985,"y":557,"g":"b"},{"x":1037,"y":568,"g":"b"},{"x":1096,"y":571,"g":"b"},{"x":1095,"y":600,"g":"b"},{"x":1075,"y":609,"g":"b"},{"x":1068,"y":615,"g":"b"},{"x":1058,"y":618,"g":"b"},{"x":1066,"y":629,"g":"b"},{"x":1090,"y":619,"g":"b"},{"x":1105,"y":643,"g":"b"},{"x":1082,"y":675,"g":"b"}
],
"sel":[{"c":0,"b":"G"},{"c":1,"b":"T"},{"c":2,"b":"G"},{"c":3,"b":"C"},{"c":4,"b":"C"},{"c":5,"b":"T"},{"c":6,"b":"T"},{"c":7,"b":"G"},{"c":8,"b":"C"},{"c":9,"b":"G"},{"c":10,"b":"C"},{"c":11,"b":"C"},{"c":12,"b":"G"},{"c":13,"b":"G"},{"c":14,"b":"G"},{"c":15,"b":"A"},{"c":16,"b":"A"},{"c":17,"b":"A"},{"c":18,"b":"C"},{"c":19,"b":"C"},{"c":20,"b":"A"},{"c":21,"b":"C"},{"c":22,"b":"G"},{"c":23,"b":"C"},{"c":24,"b":"C"},{"c":25,"b":"A"},{"c":26,"b":"G"},{"c":27,"b":"G"},{"c":28,"b":"G"},{"c":29,"b":"A"},{"c":30,"b":"T"},{"c":31,"b":"G"},{"c":32,"b":"G"},{"c":33,"b":"T"},{"c":34,"b":"G"},{"c":35,"b":"T"},{"c":36,"b":"C"},{"c":37,"b":"A"},{"c":38,"b":"A"},{"c":39,"b":"A"},{"c":40,"b":"T"},{"c":41,"b":"G"},{"c":42,"b":"C"},{"c":43,"b":"G"},{"c":44,"b":"G"},{"c":45,"b":"C"},{"c":46,"b":"G"},{"c":47,"b":"A"},{"c":48,"b":"A"},{"c":49,"b":"A"},{"c":50,"b":"C"},{"c":51,"b":"C"},{"c":52,"b":"T"},{"c":53,"b":"A"},{"c":54,"b":"N"},{"c":55,"b":"N"},{"c":56,"b":"N"},{"c":57,"b":"N"},{"c":58,"b":"N"},{"c":59,"b":"N"},{"c":60,"b":"N"},{"c":61,"b":"N"},{"c":62,"b":"N"},{"c":63,"b":"N"},{"c":64,"b":"N"},{"c":65,"b":"N"},{"c":66,"b":"N"},{"c":67,"b":"N"},{"c":68,"b":"N"},{"c":69,"b":"N"},{"c":70,"b":"N"},{"c":71,"b":"N"},{"c":72,"b":"N"},{"c":73,"b":"N"},{"c":74,"b":"N"},{"c":75,"b":"N"},{"c":76,"b":"N"},{"c":77,"b":"N"},{"c":78,"b":"N"},{"c":79,"b":"N"},{"c":80,"b":"N"},{"c":81,"b":"N"},{"c":82,"b":"N"},{"c":83,"b":"N"},{"c":84,"b":"N"},{"c":85,"b":"N"},{"c":86,"b":"N"},{"c":87,"b":"N"},{"c":88,"b":"N"},{"c":89,"b":"N"},{"c":90,"b":"N"},{"c":91,"b":"N"},{"c":92,"b":"N"},{"c":93,"b":"N"},{"c":94,"b":"N"},{"c":95,"b":"N"},{"c":96,"b":"N"},{"c":97,"b":"N"},{"c":98,"b":"N"},{"c":99,"b":"N"},{"c":100,"b":"N"},{"c":101,"b":"G"},{"c":102,"b":"C"},{"c":103,"b":"G"},{"c":104,"b":"C"},{"c":105,"b":"C"},{"c":106,"b":"G"},{"c":107,"b":"A"},{"c":108,"b":"T"},{"c":109,"b":"G"},{"c":110,"b":"A"},{"c":111,"b":"A"},{"c":112,"b":"G"},{"c":113,"b":"G"},{"c":114,"b":"T"},{"c":115,"b":"G"},{"c":116,"b":"T"},{"c":117,"b":"A"},{"c":118,"b":"G"},{"c":119,"b":"A"},{"c":120,"b":"G"},{"c":121,"b":"A"},{"c":122,"b":"C"},{"c":123,"b":"C"},{"c":124,"b":"G"},{"c":125,"b":"G"},{"c":126,"b":"A"},{"c":127,"b":"C"},{"c":128,"b":"G"},{"c":129,"b":"G"},{"c":130,"b":"C"},{"c":131,"b":"A"},{"c":132,"b":"A"},{"c":133,"b":"C"},{"c":134,"b":"C"},{"c":135,"b":"G"},{"c":136,"b":"C"},{"c":137,"b":"C"},{"c":138,"b":"T"},{"c":139,"b":"A"},{"c":140,"b":"A"},{"c":141,"b":"G"},{"c":142,"b":"G"},{"c":143,"b":"C"},{"c":144,"b":"A"},{"c":145,"b":"G"},{"c":146,"b":"A"},{"c":147,"b":"C"},{"c":148,"b":"G"},{"c":149,"b":"C"},{"c":150,"b":"T"},{"c":151,"b":"A"},{"c":152,"b":"T"},{"c":153,"b":"G"},{"c":154,"b":"G"},{"c":155,"b":"T"},{"c":156,"b":"G"},{"c":157,"b":"A"},{"c":158,"b":"A"},{"c":159,"b":"G"},{"c":160,"b":"G"},{"c":161,"b":"C"},{"c":162,"b":"A"},{"c":163,"b":"T"},{"c":164,"b":"A"},{"c":165,"b":"G"},{"c":166,"b":"T"},{"c":167,"b":"C"},{"c":168,"b":"C"},{"c":169,"b":"A"},{"c":170,"b":"G"},{"c":171,"b":"G"},{"c":172,"b":"G"},{"c":173,"b":"A"},{"c":174,"b":"G"},{"c":175,"b":"T"},{"c":176,"b":"N"},{"c":177,"b":"N"},{"c":178,"b":"N"},{"c":179,"b":"N"},{"c":180,"b":"N"},{"c":181,"b":"N"},{"c":182,"b":"N"},{"c":183,"b":"N"},{"c":184,"b":"N"},{"c":185,"b":"N"}],
"ref":[{"c":0,"b":"G"},{"c":1,"b":"T"},{"c":2,"b":"G"},{"c":3,"b":"C"},{"c":4,"b":"C"},{"c":5,"b":"T"},{"c":6,"b":"T"},{"c":7,"b":"G"},{"c":8,"b":"C"},{"c":9,"b":"G"},{"c":10,"b":"C"},{"c":11,"b":"C"},{"c":12,"b":"G"},{"c":13,"b":"G"},{"c":14,"b":"G"},{"c":15,"b":"A"},{"c":16,"b":"A"},{"c":17,"b":"A"},{"c":18,"b":"C"},{"c":19,"b":"C"},{"c":20,"b":"A"},{"c":21,"b":"C"},{"c":22,"b":"G"},{"c":23,"b":"C"},{"c":24,"b":"A"},{"c":25,"b":"A"},{"c":26,"b":"G"},{"c":27,"b":"G"},{"c":28,"b":"G"},{"c":29,"b":"A"},{"c":30,"b":"T"},{"c":31,"b":"G"},{"c":32,"b":"G"},{"c":33,"b":"T"},{"c":34,"b":"G"},{"c":35,"b":"T"},{"c":36,"b":"C"},{"c":37,"b":"A"},{"c":38,"b":"A"},{"c":39,"b":"A"},{"c":40,"b":"T"},{"c":41,"b":"T"},{"c":42,"b":"C"},{"c":43,"b":"G"},{"c":44,"b":"G"},{"c":45,"b":"C"},{"c":46,"b":"G"},{"c":47,"b":"A"},{"c":48,"b":"A"},{"c":49,"b":"A"},{"c":50,"b":"C"},{"c":51,"b":"C"},{"c":52,"b":"T"},{"c":53,"b":"A"},{"c":54,"b":"A"},{"c":55,"b":"G"},{"c":56,"b":"C"},{"c":57,"b":"G"},{"c":58,"b":"C"},{"c":59,"b":"C"},{"c":60,"b":"C"},{"c":61,"b":"G"},{"c":62,"b":"C"},{"c":63,"b":"C"},{"c":64,"b":"C"},{"c":65,"b":"G"},{"c":66,"b":"G"},{"c":67,"b":"G"},{"c":68,"b":"C"},{"c":69,"b":"G"},{"c":70,"b":"T"},{"c":71,"b":"A"},{"c":72,"b":"T"},{"c":73,"b":"G"},{"c":74,"b":"G"},{"c":75,"b":"C"},{"c":76,"b":"A"},{"c":77,"b":"A"},{"c":78,"b":"C"},{"c":79,"b":"G"},{"c":80,"b":"C"},{"c":81,"b":"C"},{"c":82,"b":"G"},{"c":83,"b":"A"},{"c":84,"b":"G"},{"c":85,"b":"C"},{"c":86,"b":"C"},{"c":87,"b":"A"},{"c":88,"b":"A"},{"c":89,"b":"G"},{"c":90,"b":"C"},{"c":91,"b":"T"},{"c":92,"b":"T"},{"c":93,"b":"C"},{"c":94,"b":"G"},{"c":95,"b":"G"},{"c":96,"b":"C"},{"c":97,"b":"G"},{"c":98,"b":"C"},{"c":99,"b":"C"},{"c":100,"b":"T"},{"c":101,"b":"G"},{"c":102,"b":"C"},{"c":103,"b":"G"},{"c":104,"b":"C"},{"c":105,"b":"C"},{"c":106,"b":"G"},{"c":107,"b":"A"},{"c":108,"b":"T"},{"c":109,"b":"G"},{"c":110,"b":"A"},{"c":111,"b":"A"},{"c":112,"b":"G"},{"c":113,"b":"G"},{"c":114,"b":"T"},{"c":115,"b":"G"},{"c":116,"b":"T"},{"c":117,"b":"A"},{"c":118,"b":"G"},{"c":119,"b":"A"},{"c":120,"b":"G"},{"c":121,"b":"A"},{"c":122,"b":"C"},{"c":123,"b":"T"},{"c":124,"b":"A"},{"c":125,"b":"G"},{"c":126,"b":"A"},{"c":127,"b":"C"},{"c":128,"b":"G"},{"c":129,"b":"G"},{"c":130,"b":"C"},{"c":131,"b":"A"},{"c":132,"b":"C"},{"c":133,"b":"C"},{"c":134,"b":"C"},{"c":135,"b":"A"},{"c":136,"b":"C"},{"c":137,"b":"C"},{"c":138,"b":"T"},{"c":139,"b":"A"},{"c":140,"b":"A"},{"c":141,"b":"G"},{"c":142,"b":"G"},{"c":143,"b":"C"},{"c":144,"b":"A"},{"c":145,"b":"A"},{"c":146,"b":"A"},{"c":147,"b":"C"},{"c":148,"b":"G"},{"c":149,"b":"C"},{"c":150,"b":"T"},{"c":151,"b":"A"},{"c":152,"b":"T"},{"c":153,"b":"G"},{"c":154,"b":"G"},{"c":155,"b":"T"},{"c":156,"b":"G"},{"c":157,"b":"A"},{"c":158,"b":"A"},{"c":159,"b":"G"},{"c":160,"b":"G"},{"c":161,"b":"C"},{"c":162,"b":"A"},{"c":163,"b":"T"},{"c":164,"b":"A"},{"c":165,"b":"G"},{"c":166,"b":"T"},{"c":167,"b":"C"},{"c":168,"b":"C"},{"c":169,"b":"A"},{"c":170,"b":"G"},{"c":171,"b":"G"},{"c":172,"b":"G"},{"c":173,"b":"A"},{"c":174,"b":"G"},{"c":175,"b":"T"},{"c":176,"b":"N"},{"c":177,"b":"N"},{"c":178,"b":"N"},{"c":179,"b":"N"},{"c":180,"b":"N"},{"c":181,"b":"N"},{"c":182,"b":"N"},{"c":183,"b":"N"},{"c":184,"b":"N"},{"c":185,"b":"N"}],
"pre":[{"c":0,"b":"G","v":98},{"c":1,"b":"T","v":98},{"c":2,"b":"G","v":98},{"c":3,"b":"C","v":98},{"c":4,"b":"C","v":98},{"c":5,"b":"T","v":98},{"c":6,"b":"T","v":98},{"c":7,"b":"G","v":97},{"c":8,"b":"C","v":98},{"c":9,"b":"G","v":99},{"c":10,"b":"C","v":98},{"c":11,"b":"C","v":98},{"c":12,"b":"G","v":98},{"c":13,"b":"G","v":98},{"c":14,"b":"G","v":97},{"c":15,"b":"A","v":96},{"c":16,"b":"A","v":100},{"c":17,"b":"A","v":75},{"c":18,"b":"C","v":95},{"c":19,"b":"C","v":95},{"c":20,"b":"A","v":89},{"c":21,"b":"C","v":88},{"c":22,"b":"G","v":88},{"c":23,"b":"C","v":91},{"c":24,"b":"A","v":86},{"c":25,"b":"A","v":90},{"c":26,"b":"G","v":86},{"c":27,"b":"G","v":93},{"c":28,"b":"G","v":96},{"c":29,"b":"A","v":89},{"c":30,"b":"T","v":89},{"c":31,"b":"G","v":89},{"c":32,"b":"G","v":91},{"c":33,"b":"T","v":86},{"c":34,"b":"G","v":93},{"c":35,"b":"T","v":88},{"c":36,"b":"C","v":93},{"c":37,"b":"A","v":86},{"c":38,"b":"A","v":92},{"c":39,"b":"A","v":90},{"c":40,"b":"T","v":90},{"c":41,"b":"T","v":93},{"c":42,"b":"C","v":89},{"c":43,"b":"G","v":86},{"c":44,"b":"G","v":87},{"c":45,"b":"C","v":86},{"c":46,"b":"G","v":88},{"c":47,"b":"A","v":90},{"c":48,"b":"A","v":93},{"c":49,"b":"A","v":91},{"c":50,"b":"C","v":91},{"c":51,"b":"C","v":95},{"c":52,"b":"T","v":90},{"c":53,"b":"A","v":90},{"c":54,"b":"A","v":90},{"c":55,"b":"G","v":88},{"c":56,"b":"C","v":90},{"c":57,"b":"G","v":92},{"c":58,"b":"C","v":96},{"c":59,"b":"C","v":97},{"c":60,"b":"C","v":97},{"c":61,"b":"G","v":26},{"c":62,"b":"C","v":88},{"c":63,"b":"C","v":88},{"c":64,"b":"C","v":88},{"c":65,"b":"G","v":88},{"c":66,"b":"G","v":95},{"c":67,"b":"G","v":97},{"c":68,"b":"C","v":86},{"c":69,"b":"G","v":90},{"c":70,"b":"T","v":86},{"c":71,"b":"A","v":86},{"c":72,"b":"T","v":85},{"c":73,"b":"G","v":86},{"c":74,"b":"G","v":91},{"c":75,"b":"C","v":82},{"c":76,"b":"A","v":79},{"c":77,"b":"A","v":90},{"c":78,"b":"C","v":86},{"c":79,"b":"G","v":82},{"c":80,"b":"C","v":84},{"c":81,"b":"C","v":89},{"c":82,"b":"G","v":85},{"c":83,"b":"A","v":83},{"c":84,"b":"G","v":87},{"c":85,"b":"C","v":84},{"c":86,"b":"C","v":91},{"c":87,"b":"A","v":79},{"c":88,"b":"A","v":90},{"c":89,"b":"G","v":84},{"c":90,"b":"C","v":87},{"c":91,"b":"T","v":82},{"c":92,"b":"T","v":91},{"c":93,"b":"C","v":88},{"c":94,"b":"G","v":86},{"c":95,"b":"G","v":95},{"c":96,"b":"C","v":88},{"c":97,"b":"G","v":86},{"c":98,"b":"C","v":88},{"c":99,"b":"C","v":92},{"c":100,"b":"T","v":82},{"c":101,"b":"G","v":82},{"c":102,"b":"C","v":84},{"c":103,"b":"G","v":86},{"c":104,"b":"C","v":86},{"c":105,"b":"C","v":93},{"c":106,"b":"G","v":84},{"c":107,"b":"A","v":82},{"c":108,"b":"T","v":81},{"c":109,"b":"G","v":86},{"c":110,"b":"A","v":79},{"c":111,"b":"A","v":89},{"c":112,"b":"G","v":80},{"c":113,"b":"G","v":92},{"c":114,"b":"T","v":77},{"c":115,"b":"G","v":86},{"c":116,"b":"T","v":83},{"c":117,"b":"A","v":80},{"c":118,"b":"G","v":84},{"c":119,"b":"A","v":80},{"c":120,"b":"G","v":85},{"c":121,"b":"A","v":82},{"c":122,"b":"C","v":82},{"c":123,"b":"T","v":79},{"c":124,"b":"A","v":76},{"c":125,"b":"G","v":81},{"c":126,"b":"A","v":77},{"c":127,"b":"C","v":75},{"c":128,"b":"G","v":74},{"c":129,"b":"G","v":88},{"c":130,"b":"C","v":77},{"c":131,"b":"A","v":71},{"c":132,"b":"C","v":76},{"c":133,"b":"C","v":69},{"c":134,"b":"C","v":90},{"c":135,"b":"A","v":73},{"c":136,"b":"C","v":81},{"c":137,"b":"C","v":92},{"c":138,"b":"T","v":76},{"c":139,"b":"A","v":74},{"c":140,"b":"A","v":86},{"c":141,"b":"G","v":76},{"c":142,"b":"G","v":91},{"c":143,"b":"C","v":76},{"c":144,"b":"A","v":70},{"c":145,"b":"A","v":88},{"c":146,"b":"A","v":89},{"c":147,"b":"C","v":74},{"c":148,"b":"G","v":73},{"c":149,"b":"C","v":78},{"c":150,"b":"T","v":73},{"c":151,"b":"A","v":73},{"c":152,"b":"T","v":75},{"c":153,"b":"G","v":77},{"c":154,"b":"G","v":92},{"c":155,"b":"T","v":74},{"c":156,"b":"G","v":81},{"c":157,"b":"A","v":66},{"c":158,"b":"A","v":85},{"c":159,"b":"G","v":75},{"c":160,"b":"G","v":90},{"c":161,"b":"C","v":73},{"c":162,"b":"A","v":70},{"c":163,"b":"T","v":74},{"c":164,"b":"A","v":75},{"c":165,"b":"G","v":75},{"c":166,"b":"T","v":73},{"c":167,"b":"C","v":74},{"c":168,"b":"C","v":87},{"c":169,"b":"A","v":69},{"c":170,"b":"G","v":73},{"c":171,"b":"G","v":86},{"c":172,"b":"G","v":88},{"c":173,"b":"A","v":66},{"c":174,"b":"G","v":73},{"c":175,"b":"T","v":66},{"c":176,"b":"N","v":81},{"c":177,"b":"N","v":95},{"c":178,"b":"N","v":99},{"c":179,"b":"N","v":100},{"c":180,"b":"N","v":100},{"c":181,"b":"N","v":100},{"c":182,"b":"N","v":100},{"c":183,"b":"N","v":100},{"c":184,"b":"N","v":100},{"c":185,"b":"N","v":100},
{"c":17,"b":"A","v":-5},{"c":17,"b":"N","v":-20},{"c":20,"b":"C","v":-8},{"c":21,"b":"A","v":-10},{"c":22,"b":"A","v":-10},{"c":23,"b":"A","v":-7},{"c":24,"b":"T","v":-12},{"c":25,"b":"A","v":-8},{"c":26,"b":"A","v":-10},{"c":29,"b":"T","v":-8},{"c":30,"b":"A","v":-6},{"c":31,"b":"A","v":-6},{"c":33,"b":"A","v":-8},{"c":36,"b":"C","v":-5},{"c":37,"b":"G","v":-8},{"c":42,"b":"G","v":-7},{"c":43,"b":"A","v":-8},{"c":44,"b":"A","v":-8},{"c":45,"b":"T","v":-10},{"c":46,"b":"A","v":-6},{"c":47,"b":"T","v":-6},{"c":52,"b":"C","v":-6},{"c":53,"b":"G","v":-7},{"c":54,"b":"A","v":-7},{"c":55,"b":"A","v":-6},{"c":56,"b":"C","v":-5},{"c":57,"b":"A","v":-6},{"c":61,"b":"A","v":-62},{"c":61,"b":"C","v":-6},{"c":62,"b":"A","v":-6},{"c":63,"b":"T","v":-5},{"c":64,"b":"G","v":-6},{"c":65,"b":"C","v":-7},{"c":68,"b":"T","v":-14},{"c":69,"b":"C","v":-6},{"c":71,"b":"G","v":-10},{"c":72,"b":"A","v":-10},{"c":75,"b":"T","v":-14},{"c":76,"b":"T","v":-16},{"c":77,"b":"C","v":-8},{"c":78,"b":"A","v":-10},{"c":79,"b":"C","v":-10},{"c":80,"b":"T","v":-8},{"c":81,"b":"T","v":-8},{"c":82,"b":"C","v":-8},{"c":83,"b":"T","v":-10},{"c":85,"b":"T","v":-8},{"c":86,"b":"C","v":-8},{"c":87,"b":"C","v":-14},{"c":88,"b":"C","v":-5},{"c":89,"b":"A","v":-10},{"c":91,"b":"T","v":-8},{"c":92,"b":"C","v":-8},{"c":93,"b":"G","v":-9},{"c":94,"b":"A","v":-4},{"c":96,"b":"T","v":-7},{"c":97,"b":"C","v":-6},{"c":98,"b":"T","v":-7},{"c":100,"b":"C","v":-13},{"c":102,"b":"T","v":-13},{"c":103,"b":"C","v":-6},{"c":104,"b":"T","v":-7},{"c":106,"b":"C","v":-8},{"c":107,"b":"T","v":-12},{"c":108,"b":"A","v":-8},{"c":110,"b":"T","v":-14},{"c":111,"b":"T","v":-5},{"c":112,"b":"A","v":-10},{"c":117,"b":"G","v":-10},{"c":117,"b":"T","v":-6},{"c":119,"b":"T","v":-13},{"c":121,"b":"T","v":-13},{"c":122,"b":"A","v":-10},{"c":123,"b":"C","v":-11},{"c":124,"b":"G","v":-10},{"c":124,"b":"A","v":-5},{"c":126,"b":"T","v":-14},{"c":127,"b":"A","v":-14},{"c":128,"b":"C","v":-14},{"c":130,"b":"T","v":-16},{"c":131,"b":"C","v":-12},{"c":131,"b":"T","v":-9},{"c":132,"b":"A","v":-8},{"c":133,"b":"G","v":-14},{"c":133,"b":"T","v":-6},{"c":134,"b":"A","v":-5},{"c":135,"b":"C","v":-20},{"c":136,"b":"A","v":-14},{"c":138,"b":"C","v":-14},{"c":139,"b":"G","v":-12},{"c":139,"b":"T","v":-4},{"c":140,"b":"C","v":-6},{"c":141,"b":"A","v":-14},{"c":143,"b":"T","v":-14},{"c":144,"b":"C","v":-12},{"c":144,"b":"T","v":-8},{"c":146,"b":"C","v":-5},{"c":147,"b":"A","v":-20},{"c":148,"b":"C","v":-16},{"c":149,"b":"T","v":-14},{"c":150,"b":"C","v":-14},{"c":151,"b":"G","v":-13},{"c":151,"b":"T","v":-10},{"c":152,"b":"A","v":-14},{"c":157,"b":"T","v":-30},{"c":158,"b":"T","v":-10},{"c":159,"b":"A","v":-14},{"c":161,"b":"T","v":-18},{"c":162,"b":"C","v":-14},{"c":162,"b":"T","v":-8},{"c":163,"b":"A","v":-13},{"c":165,"b":"G","v":-15},{"c":166,"b":"A","v":-10},{"c":167,"b":"G","v":-14},{"c":167,"b":"T","v":-6},{"c":169,"b":"C","v":-15},{"c":169,"b":"G","v":-5},{"c":170,"b":"A","v":-12},{"c":173,"b":"T","v":-26},{"c":174,"b":"A","v":-10},{"c":174,"b":"G","v":-5},{"c":175,"b":"A","v":-8},{"c":176,"b":"G","v":-12}],
"pop1":[{"c":0,"b":"G","v":98},{"c":1,"b":"T","v":98},{"c":2,"b":"G","v":98},{"c":3,"b":"C","v":98},{"c":4,"b":"C","v":98},{"c":5,"b":"T","v":98},{"c":6,"b":"T","v":98},{"c":7,"b":"G","v":97},{"c":8,"b":"C","v":98},{"c":9,"b":"G","v":100},{"c":10,"b":"C","v":98},{"c":11,"b":"C","v":98},{"c":12,"b":"G","v":98},{"c":13,"b":"G","v":98},{"c":14,"b":"G","v":97},{"c":15,"b":"A","v":95},{"c":16,"b":"A","v":100},{"c":17,"b":"A","v":77},{"c":18,"b":"C","v":95},{"c":19,"b":"C","v":95},{"c":20,"b":"A","v":93},{"c":21,"b":"C","v":88},{"c":22,"b":"G","v":88},{"c":23,"b":"C","v":88},{"c":24,"b":"A","v":88},{"c":25,"b":"A","v":93},{"c":26,"b":"G","v":89},{"c":27,"b":"G","v":92},{"c":28,"b":"G","v":97},{"c":29,"b":"A","v":92},{"c":30,"b":"T","v":90},{"c":31,"b":"G","v":91},{"c":32,"b":"G","v":96},{"c":33,"b":"T","v":92},{"c":34,"b":"G","v":95},{"c":35,"b":"T","v":92},{"c":36,"b":"C","v":93},{"c":37,"b":"A","v":92},{"c":38,"b":"A","v":96},{"c":39,"b":"A","v":95},{"c":40,"b":"T","v":95},{"c":41,"b":"T","v":96},{"c":42,"b":"C","v":92},{"c":43,"b":"G","v":88},{"c":44,"b":"G","v":90},{"c":45,"b":"C","v":82},{"c":46,"b":"G","v":93},{"c":47,"b":"A","v":92},{"c":48,"b":"A","v":97},{"c":49,"b":"A","v":95},{"c":50,"b":"C","v":95},{"c":51,"b":"C","v":97},{"c":52,"b":"T","v":92},{"c":53,"b":"A","v":93},{"c":54,"b":"A","v":95},{"c":55,"b":"G","v":86},{"c":56,"b":"C","v":89},{"c":57,"b":"G","v":92},{"c":58,"b":"C","v":95},{"c":59,"b":"C","v":97},{"c":60,"b":"C","v":97},{"c":61,"b":"G","v":19},{"c":62,"b":"C","v":88},{"c":63,"b":"C","v":85},{"c":64,"b":"C","v":84},{"c":65,"b":"G","v":86},{"c":66,"b":"G","v":95},{"c":67,"b":"G","v":96},{"c":68,"b":"C","v":85},{"c":69,"b":"G","v":89},{"c":70,"b":"T","v":86},{"c":71,"b":"A","v":85},{"c":72,"b":"T","v":85},{"c":73,"b":"G","v":86},{"c":74,"b":"G","v":93},{"c":75,"b":"C","v":78},{"c":76,"b":"A","v":81},{"c":77,"b":"A","v":95},{"c":78,"b":"C","v":84},{"c":79,"b":"G","v":81},{"c":80,"b":"C","v":84},{"c":81,"b":"C","v":92},{"c":82,"b":"G","v":86},{"c":83,"b":"A","v":84},{"c":84,"b":"G","v":86},{"c":85,"b":"C","v":84},{"c":86,"b":"C","v":92},{"c":87,"b":"A","v":82},{"c":88,"b":"A","v":93},{"c":89,"b":"G","v":83},{"c":90,"b":"C","v":86},{"c":91,"b":"T","v":84},{"c":92,"b":"T","v":92},{"c":93,"b":"C","v":86},{"c":94,"b":"G","v":87},{"c":95,"b":"G","v":95},{"c":96,"b":"C","v":85},{"c":97,"b":"G","v":84},{"c":98,"b":"C","v":88},{"c":99,"b":"C","v":90},{"c":100,"b":"T","v":81},{"c":101,"b":"G","v":79},{"c":102,"b":"C","v":82},{"c":103,"b":"G","v":84},{"c":104,"b":"C","v":86},{"c":105,"b":"C","v":94},{"c":106,"b":"G","v":85},{"c":107,"b":"A","v":82},{"c":108,"b":"T","v":79},{"c":109,"b":"G","v":88},{"c":110,"b":"A","v":81},{"c":111,"b":"A","v":93},{"c":112,"b":"G","v":84},{"c":113,"b":"G","v":95},{"c":114,"b":"T","v":82},{"c":115,"b":"G","v":88},{"c":116,"b":"T","v":86},{"c":117,"b":"A","v":86},{"c":118,"b":"G","v":87},{"c":119,"b":"A","v":84},{"c":120,"b":"G","v":88},{"c":121,"b":"A","v":86},{"c":122,"b":"C","v":84},{"c":123,"b":"T","v":84},{"c":124,"b":"A","v":85},{"c":125,"b":"G","v":86},{"c":126,"b":"A","v":86},{"c":127,"b":"C","v":80},{"c":128,"b":"G","v":85},{"c":129,"b":"G","v":92},{"c":130,"b":"C","v":82},{"c":131,"b":"A","v":82},{"c":132,"b":"C","v":84},{"c":133,"b":"C","v":82},{"c":134,"b":"C","v":95},{"c":135,"b":"A","v":82},{"c":136,"b":"C","v":87},{"c":137,"b":"C","v":96},{"c":138,"b":"T","v":84},{"c":139,"b":"A","v":81},{"c":140,"b":"A","v":93},{"c":141,"b":"G","v":81},{"c":142,"b":"G","v":94},{"c":143,"b":"C","v":84},{"c":144,"b":"A","v":75},{"c":145,"b":"A","v":88},{"c":146,"b":"A","v":88},{"c":147,"b":"C","v":77},{"c":148,"b":"G","v":81},{"c":149,"b":"C","v":82},{"c":150,"b":"T","v":79},{"c":151,"b":"A","v":81},{"c":152,"b":"T","v":81},{"c":153,"b":"G","v":82},{"c":154,"b":"G","v":94},{"c":155,"b":"T","v":82},{"c":156,"b":"G","v":87},{"c":157,"b":"A","v":78},{"c":158,"b":"A","v":89},{"c":159,"b":"G","v":82},{"c":160,"b":"G","v":93},{"c":161,"b":"C","v":80},{"c":162,"b":"A","v":78},{"c":163,"b":"T","v":82},{"c":164,"b":"A","v":83},{"c":165,"b":"G","v":81},{"c":166,"b":"T","v":79},{"c":167,"b":"C","v":81},{"c":168,"b":"C","v":93},{"c":169,"b":"A","v":73},{"c":170,"b":"G","v":79},{"c":171,"b":"G","v":91},{"c":172,"b":"G","v":90},{"c":173,"b":"A","v":74},{"c":174,"b":"G","v":82},{"c":175,"b":"T","v":77},{"c":176,"b":"N","v":84},{"c":177,"b":"N","v":95},{"c":178,"b":"N","v":99},{"c":179,"b":"N","v":100},{"c":180,"b":"N","v":100},{"c":181,"b":"N","v":100},{"c":182,"b":"N","v":100},{"c":183,"b":"N","v":100},{"c":184,"b":"N","v":100},{"c":185,"b":"N","v":100},
{"c":17,"b":"N","v":-22},{"c":21,"b":"G","v":-7},{"c":22,"b":"A","v":-4},{"c":23,"b":"T","v":-5},{"c":24,"b":"T","v":-6},{"c":29,"b":"T","v":-4},{"c":36,"b":"C","v":-4},{"c":42,"b":"C","v":-6},{"c":43,"b":"A","v":-6},{"c":44,"b":"A","v":-5},{"c":45,"b":"G","v":-12},{"c":46,"b":"T","v":-3},{"c":52,"b":"A","v":-4},{"c":53,"b":"A","v":-6},{"c":54,"b":"A","v":-6},{"c":55,"b":"A","v":-6},{"c":61,"b":"A","v":-58},{"c":61,"b":"C","v":-6},{"c":62,"b":"T","v":-3},{"c":63,"b":"G","v":-6},{"c":64,"b":"G","v":-6},{"c":65,"b":"C","v":-5},{"c":68,"b":"T","v":-12},{"c":69,"b":"C","v":-4},{"c":71,"b":"G","v":-8},{"c":72,"b":"A","v":-4},{"c":75,"b":"T","v":-14},{"c":75,"b":"C","v":-4},{"c":76,"b":"C","v":-12},{"c":78,"b":"A","v":-10},{"c":79,"b":"C","v":-12},{"c":80,"b":"T","v":-10},{"c":82,"b":"C","v":-5},{"c":83,"b":"T","v":-5},{"c":85,"b":"T","v":-5},{"c":87,"b":"C","v":-10},{"c":89,"b":"A","v":-10},{"c":90,"b":"T","v":-5},{"c":91,"b":"T","v":-6},{"c":92,"b":"C","v":-6},{"c":93,"b":"G","v":-8},{"c":94,"b":"C","v":-4},{"c":96,"b":"T","v":-7},{"c":97,"b":"C","v":-5},{"c":98,"b":"T","v":-6},{"c":100,"b":"C","v":-10},{"c":102,"b":"T","v":-14},{"c":103,"b":"C","v":-5},{"c":104,"b":"T","v":-6},{"c":106,"b":"C","v":-7},{"c":107,"b":"T","v":-8},{"c":108,"b":"A","v":-7},{"c":110,"b":"T","v":-13},{"c":112,"b":"A","v":-9},{"c":117,"b":"G","v":-10},{"c":119,"b":"T","v":-8},{"c":120,"b":"A","v":-4},{"c":121,"b":"T","v":-7},{"c":122,"b":"A","v":-8},{"c":123,"b":"C","v":-6},{"c":124,"b":"G","v":-6},{"c":126,"b":"T","v":-8},{"c":127,"b":"A","v":-12},{"c":128,"b":"C","v":-8},{"c":130,"b":"T","v":-10},{"c":131,"b":"C","v":-10},{"c":131,"b":"T","v":-4},{"c":132,"b":"A","v":-5},{"c":133,"b":"G","v":-7},{"c":135,"b":"C","v":-10},{"c":136,"b":"A","v":-6},{"c":138,"b":"C","v":-8},{"c":139,"b":"G","v":-6},{"c":141,"b":"A","v":-10},{"c":143,"b":"T","v":-10},{"c":144,"b":"C","v":-8},{"c":144,"b":"T","v":-6},{"c":147,"b":"A","v":-20},{"c":148,"b":"C","v":-10},{"c":149,"b":"T","v":-10},{"c":150,"b":"C","v":-8},{"c":151,"b":"G","v":-10},{"c":152,"b":"A","v":-10},{"c":157,"b":"T","v":-18},{"c":158,"b":"G","v":-4},{"c":159,"b":"A","v":-8},{"c":161,"b":"T","v":-12},{"c":162,"b":"C","v":-10},{"c":162,"b":"T","v":-6},{"c":163,"b":"A","v":-7},{"c":165,"b":"G","v":-9},{"c":166,"b":"A","v":-7},{"c":167,"b":"G","v":-10},{"c":169,"b":"C","v":-10},{"c":169,"b":"G","v":-6},{"c":170,"b":"A","v":-10},{"c":173,"b":"T","v":-20},{"c":174,"b":"A","v":-10},{"c":176,"b":"G","v":-8}],
"pop2":[{"c":0,"b":"G","v":98},{"c":1,"b":"T","v":98},{"c":2,"b":"G","v":98},{"c":3,"b":"C","v":98},{"c":4,"b":"C","v":98},{"c":5,"b":"T","v":98},{"c":6,"b":"T","v":98},{"c":7,"b":"G","v":97},{"c":8,"b":"C","v":98},{"c":9,"b":"G","v":100},{"c":10,"b":"C","v":98},{"c":11,"b":"C","v":98},{"c":12,"b":"G","v":98},{"c":13,"b":"G","v":98},{"c":14,"b":"G","v":97},{"c":15,"b":"A","v":96},{"c":16,"b":"A","v":100},{"c":17,"b":"A","v":88},{"c":18,"b":"C","v":96},{"c":19,"b":"C","v":95},{"c":20,"b":"A","v":93},{"c":21,"b":"C","v":85},{"c":22,"b":"G","v":85},{"c":23,"b":"C","v":85},{"c":24,"b":"A","v":89},{"c":25,"b":"A","v":93},{"c":26,"b":"G","v":88},{"c":27,"b":"G","v":92},{"c":28,"b":"G","v":96},{"c":29,"b":"A","v":92},{"c":30,"b":"T","v":89},{"c":31,"b":"G","v":90},{"c":32,"b":"G","v":95},{"c":33,"b":"T","v":90},{"c":34,"b":"G","v":95},{"c":35,"b":"T","v":90},{"c":36,"b":"C","v":91},{"c":37,"b":"A","v":91},{"c":38,"b":"A","v":96},{"c":39,"b":"A","v":95},{"c":40,"b":"T","v":95},{"c":41,"b":"T","v":96},{"c":42,"b":"C","v":92},{"c":43,"b":"G","v":88},{"c":44,"b":"G","v":88},{"c":45,"b":"C","v":79},{"c":46,"b":"G","v":90},{"c":47,"b":"A","v":92},{"c":48,"b":"A","v":97},{"c":49,"b":"A","v":93},{"c":50,"b":"C","v":92},{"c":51,"b":"C","v":96},{"c":52,"b":"T","v":89},{"c":53,"b":"A","v":92},{"c":54,"b":"A","v":94},{"c":55,"b":"G","v":84},{"c":56,"b":"C","v":87},{"c":57,"b":"G","v":90},{"c":58,"b":"C","v":95},{"c":59,"b":"C","v":97},{"c":60,"b":"C","v":96},{"c":61,"b":"G","v":12},{"c":62,"b":"C","v":86},{"c":63,"b":"C","v":83},{"c":64,"b":"C","v":81},{"c":65,"b":"G","v":89},{"c":66,"b":"G","v":95},{"c":67,"b":"G","v":95},{"c":68,"b":"C","v":85},{"c":69,"b":"G","v":88},{"c":70,"b":"T","v":86},{"c":71,"b":"A","v":86},{"c":72,"b":"T","v":86},{"c":73,"b":"G","v":86},{"c":74,"b":"G","v":92},{"c":75,"b":"C","v":77},{"c":76,"b":"A","v":84},{"c":77,"b":"A","v":95},{"c":78,"b":"C","v":84},{"c":79,"b":"G","v":79},{"c":80,"b":"C","v":83},{"c":81,"b":"C","v":90},{"c":82,"b":"G","v":85},{"c":83,"b":"A","v":85},{"c":84,"b":"G","v":85},{"c":85,"b":"C","v":85},{"c":86,"b":"C","v":91},{"c":87,"b":"A","v":85},{"c":88,"b":"A","v":95},{"c":89,"b":"G","v":84},{"c":90,"b":"C","v":89},{"c":91,"b":"T","v":85},{"c":92,"b":"T","v":92},{"c":93,"b":"C","v":86},{"c":94,"b":"G","v":88},{"c":95,"b":"G","v":93},{"c":96,"b":"C","v":86},{"c":97,"b":"G","v":81},{"c":98,"b":"C","v":85},{"c":99,"b":"C","v":89},{"c":100,"b":"T","v":85},{"c":101,"b":"G","v":77},{"c":102,"b":"C","v":81},{"c":103,"b":"G","v":85},{"c":104,"b":"C","v":86},{"c":105,"b":"C","v":92},{"c":106,"b":"G","v":86},{"c":107,"b":"A","v":88},{"c":108,"b":"T","v":82},{"c":109,"b":"G","v":89},{"c":110,"b":"A","v":84},{"c":111,"b":"A","v":93},{"c":112,"b":"G","v":84},{"c":113,"b":"G","v":95},{"c":114,"b":"T","v":84},{"c":115,"b":"G","v":90},{"c":116,"b":"T","v":88},{"c":117,"b":"A","v":88},{"c":118,"b":"G","v":89},{"c":119,"b":"A","v":84},{"c":120,"b":"G","v":89},{"c":121,"b":"A","v":86},{"c":122,"b":"C","v":85},{"c":123,"b":"T","v":85},{"c":124,"b":"A","v":85},{"c":125,"b":"G","v":88},{"c":126,"b":"A","v":88},{"c":127,"b":"C","v":82},{"c":128,"b":"G","v":84},{"c":129,"b":"G","v":91},{"c":130,"b":"C","v":84},{"c":131,"b":"A","v":82},{"c":132,"b":"C","v":85},{"c":133,"b":"C","v":79},{"c":134,"b":"C","v":93},{"c":135,"b":"A","v":84},{"c":136,"b":"C","v":88},{"c":137,"b":"C","v":96},{"c":138,"b":"T","v":85},{"c":139,"b":"A","v":82},{"c":140,"b":"A","v":93},{"c":141,"b":"G","v":82},{"c":142,"b":"G","v":95},{"c":143,"b":"C","v":85},{"c":144,"b":"A","v":75},{"c":145,"b":"A","v":89},{"c":146,"b":"A","v":89},{"c":147,"b":"C","v":79},{"c":148,"b":"G","v":84},{"c":149,"b":"C","v":85},{"c":150,"b":"T","v":81},{"c":151,"b":"A","v":82},{"c":152,"b":"T","v":82},{"c":153,"b":"G","v":85},{"c":154,"b":"G","v":95},{"c":155,"b":"T","v":84},{"c":156,"b":"G","v":88},{"c":157,"b":"A","v":79},{"c":158,"b":"A","v":88},{"c":159,"b":"G","v":84},{"c":160,"b":"G","v":92},{"c":161,"b":"C","v":81},{"c":162,"b":"A","v":79},{"c":163,"b":"T","v":84},{"c":164,"b":"A","v":84},{"c":165,"b":"G","v":84},{"c":166,"b":"T","v":84},{"c":167,"b":"C","v":84},{"c":168,"b":"C","v":93},{"c":169,"b":"A","v":75},{"c":170,"b":"G","v":82},{"c":171,"b":"G","v":92},{"c":172,"b":"G","v":89},{"c":173,"b":"A","v":74},{"c":174,"b":"G","v":81},{"c":175,"b":"T","v":77},{"c":176,"b":"N","v":88},{"c":177,"b":"N","v":96},{"c":178,"b":"N","v":98},{"c":179,"b":"N","v":100},{"c":180,"b":"N","v":100},{"c":181,"b":"N","v":100},{"c":182,"b":"N","v":100},{"c":183,"b":"N","v":100},{"c":184,"b":"N","v":100},{"c":185,"b":"N","v":100},
{"c":17,"b":"N","v":-5},{"c":21,"b":"G","v":-7},{"c":22,"b":"A","v":-5},{"c":23,"b":"G","v":-7},{"c":24,"b":"T","v":-5},{"c":29,"b":"T","v":-3},{"c":36,"b":"C","v":-3},{"c":43,"b":"A","v":-3},{"c":45,"b":"G","v":-10},{"c":45,"b":"T","v":-3},{"c":47,"b":"T","v":-3},{"c":50,"b":"T","v":-3},{"c":52,"b":"G","v":-3},{"c":53,"b":"A","v":-3},{"c":55,"b":"A","v":-4},{"c":61,"b":"A","v":-68},{"c":61,"b":"C","v":-8},{"c":62,"b":"G","v":-5},{"c":63,"b":"G","v":-5},{"c":64,"b":"G","v":-8},{"c":65,"b":"C","v":-3},{"c":68,"b":"T","v":-10},{"c":69,"b":"C","v":-3},{"c":71,"b":"G","v":-4},{"c":72,"b":"A","v":-3},{"c":75,"b":"G","v":-9},{"c":75,"b":"T","v":-7},{"c":76,"b":"C","v":-6},{"c":78,"b":"G","v":-5},{"c":79,"b":"A","v":-9},{"c":80,"b":"T","v":-8},{"c":82,"b":"G","v":-3},{"c":83,"b":"T","v":-3},{"c":85,"b":"T","v":-5},{"c":86,"b":"T","v":-3},{"c":87,"b":"C","v":-6},{"c":89,"b":"A","v":-5},{"c":91,"b":"T","v":-3},{"c":92,"b":"C","v":-3},{"c":93,"b":"G","v":-6},{"c":96,"b":"T","v":-5},{"c":97,"b":"C","v":-4},{"c":98,"b":"T","v":-4},{"c":100,"b":"C","v":-3},{"c":101,"b":"A","v":-3},{"c":102,"b":"T","v":-10},{"c":103,"b":"C","v":-3},{"c":104,"b":"T","v":-3},{"c":106,"b":"C","v":-4},{"c":107,"b":"T","v":-4},{"c":108,"b":"A","v":-6},{"c":110,"b":"T","v":-7},{"c":112,"b":"A","v":-6},{"c":117,"b":"G","v":-7},{"c":119,"b":"T","v":-9},{"c":120,"b":"A","v":-6},{"c":121,"b":"T","v":-5},{"c":122,"b":"A","v":-9},{"c":123,"b":"C","v":-5},{"c":124,"b":"G","v":-6},{"c":126,"b":"T","v":-5},{"c":127,"b":"A","v":-9},{"c":128,"b":"C","v":-5},{"c":130,"b":"T","v":-8},{"c":131,"b":"C","v":-8},{"c":132,"b":"A","v":-4},{"c":133,"b":"G","v":-8},{"c":135,"b":"C","v":-7},{"c":136,"b":"A","v":-4},{"c":138,"b":"C","v":-8},{"c":139,"b":"G","v":-8},{"c":141,"b":"A","v":-7},{"c":143,"b":"T","v":-8},{"c":144,"b":"C","v":-9},{"c":144,"b":"T","v":-5},{"c":147,"b":"A","v":-18},{"c":148,"b":"C","v":-6},{"c":149,"b":"T","v":-6},{"c":150,"b":"C","v":-6},{"c":151,"b":"G","v":-8},{"c":152,"b":"A","v":-8},{"c":157,"b":"T","v":-11},{"c":158,"b":"A","v":-3},{"c":159,"b":"A","v":-6},{"c":161,"b":"T","v":-8},{"c":162,"b":"C","v":-8},{"c":162,"b":"T","v":-3},{"c":163,"b":"A","v":-4},{"c":165,"b":"G","v":-6},{"c":166,"b":"A","v":-5},{"c":167,"b":"G","v":-5},{"c":169,"b":"C","v":-8},{"c":169,"b":"G","v":-4},{"c":170,"b":"A","v":-6},{"c":173,"b":"A","v":-8},{"c":173,"b":"T","v":-14},{"c":174,"b":"A","v":-10},{"c":176,"b":"G","v":-6}],
"panels":[
{"kind":"track","x":0,"x2":1568,"y":964,"y2":980},{"kind":"track","x":1553,"x2":1568,"y":-2,"y2":964},{"kind":"thumb","x":4,"x2":1526,"y":967.5,"y2":977},{"kind":"thumb","x":1556,"x2":1563,"y":97,"y2":943},
{"kind":"badge","x":11,"x2":98,"y":340,"y2":359},{"kind":"badge","x":11,"x2":98,"y":503,"y2":523},{"kind":"slider","x":49,"x2":54,"y":165,"y2":318},{"kind":"slider","x":49,"x2":54,"y":383,"y2":494},
{"kind":"check","x":22,"x2":35,"y":598,"y2":611},{"kind":"pop","x":1464,"x2":1483,"y":-2,"y2":15},
{"kind":"A","x":1469,"x2":1475.5,"y":710,"y2":727},{"kind":"C","x":1493,"x2":1499.5,"y":710,"y2":727},{"kind":"T","x":1517,"x2":1523,"y":710,"y2":727},{"kind":"G","x":1541,"x2":1547,"y":710,"y2":727},
{"kind":"divider","x":105,"x2":1463,"y":727.2,"y2":727.8},
{"kind":"shadow","x":567,"x2":588,"y":731,"y2":753},{"kind":"tip","x":564.5,"x2":586.5,"y":728,"y2":750.5}
],
"buttons":[{"name":"export","x":1,"x2":104,"y":2,"y2":48},{"name":"path","x":1,"x2":104,"y":108,"y2":155}],
"pressed":[{"name":"refseq","x":1,"x2":104,"y":55,"y2":102}],
"knobs":[{"x":53,"y":320},{"x":53,"y":483},{"x":28,"y":561},{"x":28,"y":583}],
"selected":[{"x":148,"y":181}],
"cursor":[{"x":560.5,"y":729}],
"hidden":[{"x":1549.5,"y":718.5,"text":"G"}],
"labels":[
{"kind":"button","x":51,"y":25,"text":"export"},{"kind":"button","x":51,"y":78,"text":"refseq"},{"kind":"button","x":51,"y":131,"text":"path"},
{"kind":"badge","x":54.5,"y":349.5,"text":"refdist"},{"kind":"badge","x":54.5,"y":513,"text":"enet"},
{"kind":"option","x":39,"y":557.5,"text":"AND"},{"kind":"option","x":39,"y":579,"text":"OR"},{"kind":"option","x":39,"y":601,"text":"NOT"},
{"kind":"track","x":102.5,"y":719,"text":"preselection:4536"},{"kind":"track","x":102.5,"y":736.5,"text":"reference"},{"kind":"track","x":102.5,"y":796.5,"text":"preselection"},{"kind":"track","x":102.5,"y":862,"text":"population1"},{"kind":"track","x":102.5,"y":927,"text":"population2"},
{"kind":"legend","x":1478,"y":718.5,"text":"A"},{"kind":"legend","x":1502,"y":718.5,"text":"C"},{"kind":"legend","x":1526,"y":718.5,"text":"T"},{"kind":"pop","x":1488,"y":6.5,"text":"population"},
{"kind":"tip","x":575.5,"y":740,"text":"-.61"}
]
},
"resolve":{"scale":{"x":"independent","y":"independent","color":"independent","fill":"independent","stroke":"independent"}},
"layer":[
{"data":{"name":"points"},"mark":{"type":"circle","size":400,"opacity":0.8,"strokeWidth":1.6},"encoding":{"x":{"field":"x","type":"quantitative","scale":{"domain":[0,1568],"range":[0,2400]},"axis":null},"y":{"field":"y","type":"quantitative","scale":{"domain":[980,0],"range":[1500,0]},"axis":null},"fill":{"field":"g","type":"nominal","scale":{"domain":["o","p","b"],"range":["#ff7f0e","#7d52c0","#7d4436"]},"legend":null},"stroke":{"field":"g","type":"nominal","scale":{"domain":["o","p","b"],"range":["#b96a1c","#5c3a9c","#4a2a22"]},"legend":null}}},
{"data":{"name":"selected"},"mark":{"type":"point","filled":false,"fill":"white","stroke":"black","strokeWidth":6.5,"opacity":1,"size":360},"encoding":{"x":{"field":"x","type":"quantitative","scale":{"domain":[0,1568],"range":[0,2400]},"axis":null},"y":{"field":"y","type":"quantitative","scale":{"domain":[980,0],"range":[1500,0]},"axis":null}}},
{"data":{"name":"sel"},"mark":{"type":"bar","size":10.2,"orient":"vertical"},"encoding":{"x":{"field":"c","type":"quantitative","scale":{"domain":[-0.5,185.5],"range":[160,2240],"padding":0},"axis":null},"y":{"datum":1,"type":"quantitative","scale":{"domain":[0,1],"range":[1112.5,1086.7]},"axis":null},"y2":{"datum":0},"color":{"field":"b","type":"nominal","scale":{"domain":["A","C","T","G","N"],"range":["#4aa84a","#3f87c6","#dc4a50","#2a2a2a","#9c9c9c"]},"legend":null}}},
{"data":{"name":"ref"},"mark":{"type":"bar","size":10.2,"orient":"vertical"},"encoding":{"x":{"field":"c","type":"quantitative","scale":{"domain":[-0.5,185.5],"range":[160,2240],"padding":0},"axis":null},"y":{"datum":1,"type":"quantitative","scale":{"domain":[0,1],"range":[1139.3,1113]},"axis":null},"y2":{"datum":0},"color":{"field":"b","type":"nominal","scale":{"domain":["A","C","T","G","N"],"range":["#4aa84a","#3f87c6","#dc4a50","#2a2a2a","#9c9c9c"]},"legend":null}}},
{"data":{"name":"pre"},"mark":{"type":"bar","size":10.2,"orient":"vertical"},"encoding":{"x":{"field":"c","type":"quantitative","scale":{"domain":[-0.5,185.5],"range":[160,2240],"padding":0},"axis":null},"y":{"field":"v","type":"quantitative","stack":"zero","scale":{"domain":[-80,100],"range":[1275,1187.3]},"axis":null},"color":{"field":"b","type":"nominal","scale":{"domain":["A","C","T","G","N"],"range":["#4aa84a","#3f87c6","#dc4a50","#2a2a2a","#9c9c9c"]},"legend":null}}},
{"data":{"name":"pop1"},"mark":{"type":"bar","size":10.2,"orient":"vertical"},"encoding":{"x":{"field":"c","type":"quantitative","scale":{"domain":[-0.5,185.5],"range":[160,2240],"padding":0},"axis":null},"y":{"field":"v","type":"quantitative","stack":"zero","scale":{"domain":[-80,100],"range":[1375,1287.3]},"axis":null},"color":{"field":"b","type":"nominal","scale":{"domain":["A","C","T","G","N"],"range":["#4aa84a","#3f87c6","#dc4a50","#2a2a2a","#9c9c9c"]},"legend":null}}},
{"data":{"name":"pop2"},"mark":{"type":"bar","size":10.2,"orient":"vertical"},"encoding":{"x":{"field":"c","type":"quantitative","scale":{"domain":[-0.5,185.5],"range":[160,2240],"padding":0},"axis":null},"y":{"field":"v","type":"quantitative","stack":"zero","scale":{"domain":[-80,100],"range":[1475,1387.3]},"axis":null},"color":{"field":"b","type":"nominal","scale":{"domain":["A","C","T","G","N"],"range":["#4aa84a","#3f87c6","#dc4a50","#2a2a2a","#9c9c9c"]},"legend":null}}},
{"data":{"name":"buttons"},"mark":{"type":"rect","cornerRadius":6,"stroke":"#cfcfcf","strokeWidth":2,"fill":{"gradient":"linear","x1":0,"y1":0,"x2":0,"y2":1,"stops":[{"offset":0,"color":"#fbfbfb"},{"offset":1,"color":"#e8e8e8"}]}},"encoding":{"x":{"field":"x","type":"quantitative","scale":{"domain":[0,1568],"range":[0,2400]},"axis":null},"x2":{"field":"x2"},"y":{"field":"y","type":"quantitative","scale":{"domain":[980,0],"range":[1500,0]},"axis":null},"y2":{"field":"y2"}}},
{"data":{"name":"pressed"},"mark":{"type":"rect","cornerRadius":6,"stroke":"#c4c4c4","strokeWidth":2,"fill":"#e6e6e6"},"encoding":{"x":{"field":"x","type":"quantitative","scale":{"domain":[0,1568],"range":[0,2400]},"axis":null},"x2":{"field":"x2"},"y":{"field":"y","type":"quantitative","scale":{"domain":[980,0],"range":[1500,0]},"axis":null},"y2":{"field":"y2"}}},
{"data":{"name":"hidden"},"mark":{"type":"text","fontSize":20,"align":"left","baseline":"middle","color":"#222222"},"encoding":{"x":{"field":"x","type":"quantitative","scale":{"domain":[0,1568],"range":[0,2400]},"axis":null},"y":{"field":"y","type":"quantitative","scale":{"domain":[980,0],"range":[1500,0]},"axis":null},"text":{"field":"text"}}},
{"data":{"name":"panels"},"mark":{"type":"rect","cornerRadius":3,"strokeWidth":2},"encoding":{"x":{"field":"x","type":"quantitative","scale":{"domain":[0,1568],"range":[0,2400]},"axis":null},"x2":{"field":"x2"},"y":{"field":"y","type":"quantitative","scale":{"domain":[980,0],"range":[1500,0]},"axis":null},"y2":{"field":"y2"},"fill":{"field":"kind","type":"nominal","scale":{"domain":["track","thumb","badge","slider","check","pop","A","C","T","G","divider","shadow","tip"],"range":["#f5f5f5","#bdbdbd","#3b84b2","#808080","#eeeeee","#96564a","#33a02c","#2c7fc1","#cc2a2e","#000000","#d8d8d8","#dcdcdc","#fbf391"]},"legend":null},"stroke":{"field":"kind","type":"nominal","scale":{"domain":["track","thumb","badge","slider","check","pop","A","C","T","G","divider","shadow","tip"],"range":["#f5f5f5","#bdbdbd","#3b84b2","#808080","#b4b4b4","#111111","#33a02c","#2c7fc1","#cc2a2e","#000000","#d8d8d8","#dcdcdc","#efe68a"]},"legend":null}}},
{"data":{"name":"knobs"},"mark":{"type":"point","filled":true,"fill":"#efefef","stroke":"#a8a8a8","strokeWidth":2.5,"opacity":1,"size":360},"encoding":{"x":{"field":"x","type":"quantitative","scale":{"domain":[0,1568],"range":[0,2400]},"axis":null},"y":{"field":"y","type":"quantitative","scale":{"domain":[980,0],"range":[1500,0]},"axis":null}}},
{"data":{"name":"cursor"},"mark":{"type":"point","filled":true,"fill":"black","stroke":"white","strokeWidth":1.5,"opacity":1,"size":800,"shape":"M-0.45,-1 L-0.45,0.55 L-0.12,0.25 L0.15,0.95 L0.4,0.85 L0.12,0.17 L0.55,0.12 Z"},"encoding":{"x":{"field":"x","type":"quantitative","scale":{"domain":[0,1568],"range":[0,2400]},"axis":null},"y":{"field":"y","type":"quantitative","scale":{"domain":[980,0],"range":[1500,0]},"axis":null}}},
{"data":{"name":"labels"},"encoding":{"x":{"field":"x","type":"quantitative","scale":{"domain":[0,1568],"range":[0,2400]},"axis":null},"y":{"field":"y","type":"quantitative","scale":{"domain":[980,0],"range":[1500,0]},"axis":null},"text":{"field":"text"}},"layer":[
{"transform":[{"filter":"datum.kind==='button'"}],"mark":{"type":"text","fontSize":30,"align":"center","baseline":"middle","color":"#333333"}},
{"transform":[{"filter":"datum.kind==='badge'"}],"mark":{"type":"text","fontSize":19,"fontWeight":"bold","align":"center","baseline":"middle","color":"#f4f4f4"}},
{"transform":[{"filter":"datum.kind==='option'"}],"mark":{"type":"text","fontSize":22,"align":"left","baseline":"middle","color":"#333333"}},
{"transform":[{"filter":"datum.kind==='track'"}],"mark":{"type":"text","fontSize":18,"align":"right","baseline":"middle","color":"#222222"}},
{"transform":[{"filter":"datum.kind==='legend'"}],"mark":{"type":"text","fontSize":20,"align":"left","baseline":"middle","color":"#222222"}},
{"transform":[{"filter":"datum.kind==='pop'"}],"mark":{"type":"text","fontSize":20,"align":"left","baseline":"middle","color":"#333333"}},
{"transform":[{"filter":"datum.kind==='tip'"}],"mark":{"type":"text","fontSize":17,"fontWeight":"bold","align":"center","baseline":"middle","color":"#5d5a28"}}
]}
]}
